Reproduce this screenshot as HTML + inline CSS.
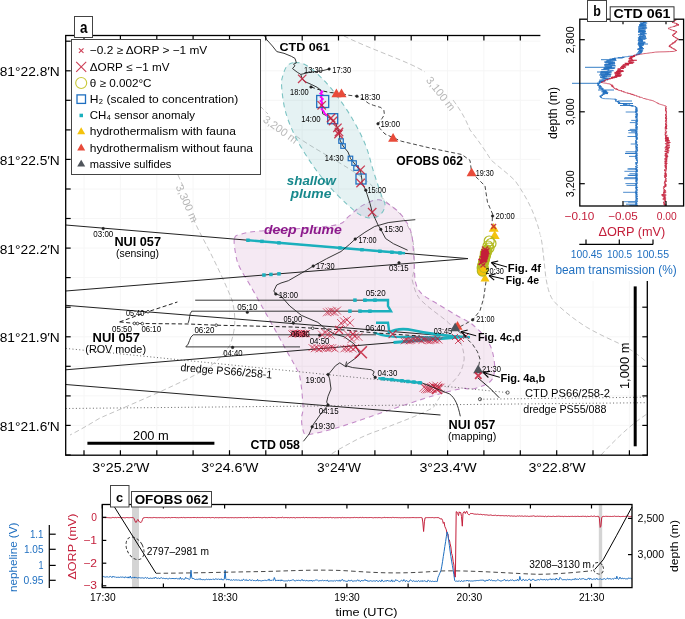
<!DOCTYPE html>
<html><head><meta charset="utf-8"><style>
html,body{margin:0;padding:0;background:#fff;}
svg{display:block;font-family:"Liberation Sans", sans-serif;will-change:transform;}
</style></head><body>
<svg width="685" height="619" viewBox="0 0 685 619">
<rect width="685" height="619" fill="#fff"/>
<line x1="84.0" y1="35.5" x2="84.0" y2="455.2" stroke="#f6f6f6" stroke-width="1" />
<line x1="120.4" y1="35.5" x2="120.4" y2="455.2" stroke="#f6f6f6" stroke-width="1" />
<line x1="156.8" y1="35.5" x2="156.8" y2="455.2" stroke="#f6f6f6" stroke-width="1" />
<line x1="193.1" y1="35.5" x2="193.1" y2="455.2" stroke="#f6f6f6" stroke-width="1" />
<line x1="229.5" y1="35.5" x2="229.5" y2="455.2" stroke="#f6f6f6" stroke-width="1" />
<line x1="265.8" y1="35.5" x2="265.8" y2="455.2" stroke="#f6f6f6" stroke-width="1" />
<line x1="302.2" y1="35.5" x2="302.2" y2="455.2" stroke="#f6f6f6" stroke-width="1" />
<line x1="338.5" y1="35.5" x2="338.5" y2="455.2" stroke="#f6f6f6" stroke-width="1" />
<line x1="374.9" y1="35.5" x2="374.9" y2="455.2" stroke="#f6f6f6" stroke-width="1" />
<line x1="411.2" y1="35.5" x2="411.2" y2="455.2" stroke="#f6f6f6" stroke-width="1" />
<line x1="447.6" y1="35.5" x2="447.6" y2="455.2" stroke="#f6f6f6" stroke-width="1" />
<line x1="483.9" y1="35.5" x2="483.9" y2="455.2" stroke="#f6f6f6" stroke-width="1" />
<line x1="520.3" y1="35.5" x2="520.3" y2="455.2" stroke="#f6f6f6" stroke-width="1" />
<line x1="556.7" y1="35.5" x2="556.7" y2="455.2" stroke="#f6f6f6" stroke-width="1" />
<line x1="593.0" y1="35.5" x2="593.0" y2="455.2" stroke="#f6f6f6" stroke-width="1" />
<line x1="629.4" y1="35.5" x2="629.4" y2="455.2" stroke="#f6f6f6" stroke-width="1" />
<line x1="65.7" y1="41.2" x2="647.3" y2="41.2" stroke="#f6f6f6" stroke-width="1" />
<line x1="65.7" y1="70.8" x2="647.3" y2="70.8" stroke="#f6f6f6" stroke-width="1" />
<line x1="65.7" y1="100.3" x2="647.3" y2="100.3" stroke="#f6f6f6" stroke-width="1" />
<line x1="65.7" y1="129.9" x2="647.3" y2="129.9" stroke="#f6f6f6" stroke-width="1" />
<line x1="65.7" y1="159.4" x2="647.3" y2="159.4" stroke="#f6f6f6" stroke-width="1" />
<line x1="65.7" y1="189.0" x2="647.3" y2="189.0" stroke="#f6f6f6" stroke-width="1" />
<line x1="65.7" y1="218.5" x2="647.3" y2="218.5" stroke="#f6f6f6" stroke-width="1" />
<line x1="65.7" y1="248.1" x2="647.3" y2="248.1" stroke="#f6f6f6" stroke-width="1" />
<line x1="65.7" y1="277.6" x2="647.3" y2="277.6" stroke="#f6f6f6" stroke-width="1" />
<line x1="65.7" y1="307.2" x2="647.3" y2="307.2" stroke="#f6f6f6" stroke-width="1" />
<line x1="65.7" y1="336.8" x2="647.3" y2="336.8" stroke="#f6f6f6" stroke-width="1" />
<line x1="65.7" y1="366.3" x2="647.3" y2="366.3" stroke="#f6f6f6" stroke-width="1" />
<line x1="65.7" y1="395.9" x2="647.3" y2="395.9" stroke="#f6f6f6" stroke-width="1" />
<line x1="65.7" y1="425.4" x2="647.3" y2="425.4" stroke="#f6f6f6" stroke-width="1" />
<line x1="65.7" y1="455.0" x2="647.3" y2="455.0" stroke="#f6f6f6" stroke-width="1" />
<path d="M344,36 C372,50 410,62 425,72 M453,100 C462,112 466,120 470,130 C478,140 485,150 491,160 C500,168 510,175 515.6,181.4 C525,195 530,205 533.4,213.4 C538,225 541,235 542.3,245.4 C544,260 545,270 545.8,277.4 C548,290 550,297 554.7,302.3 C565,312 575,320 586.8,327.3 C600,335 612,340 622.3,345 C632,350 640,356 647.3,362.8" stroke="#c4c4c4" stroke-width="1" fill="none" stroke-dasharray="5,3"/>
<path d="M260,106 L268,114 M296,136 C310,146 325,154 336.5,161 C348,168 358,174 367.5,181.7 C373,186 378,192 381.7,197.2 C388,204 396,209 401,215 C406,222 409,228 411,233 C413,240 414,246 414,251 C415,265 414,272 412,279 C414,288 416,294 419.4,298.5 C428,308 440,315 448.5,322.7 C455,330 459,336 460.6,342 C463,348 464,353 464.2,359 C463,367 461,372 458,376 C454,381 450,385 446,388 C441,395 437,401 433.5,407.4 C420,415 400,422 380,430 C368,434 360,438 356,440 C345,446 337,450 330,455" stroke="#c4c4c4" stroke-width="1" fill="none" stroke-dasharray="5,3"/>
<path d="M601,455 C615,440 630,425 647,414" stroke="#c4c4c4" stroke-width="1" fill="none" stroke-dasharray="5,3"/>
<path d="M178,175 L183,186 M193,218 C198,230 204,240 210,252 C218,268 226,285 232,300 C236,315 236,330 230,345 C222,358 210,368 195,375 C170,388 130,405 100,418 C90,424 80,430 70,435" stroke="#c4c4c4" stroke-width="1" fill="none" stroke-dasharray="5,3"/>
<text x="0" y="3.78" font-size="11" text-anchor="middle" fill="#b8b8b8" font-weight="normal" transform="translate(440.8 93.6) rotate(52)">3,100 m</text>
<text x="0" y="3.78" font-size="11" text-anchor="middle" fill="#b8b8b8" font-weight="normal" transform="translate(280.5 129.5) rotate(36)">3,200 m</text>
<text x="0" y="3.78" font-size="11" text-anchor="middle" fill="#b8b8b8" font-weight="normal" transform="translate(187.0 203.4) rotate(66)">3,300 m</text>
<path d="M234.4,238.4 C235.3,234.7 237.7,235.2 241.7,234.0 C245.7,232.8 248.8,232.0 258.5,231.1 C268.2,230.2 286.9,229.6 300.0,228.5 C313.1,227.4 329.3,226.5 337.3,224.6 C345.3,222.7 344.9,219.5 348.2,216.9 C351.5,214.3 354.1,211.4 357.0,209.2 C359.9,207.0 362.1,205.4 365.8,203.8 C369.5,202.2 374.4,199.2 379.0,199.8 C383.6,200.4 389.3,204.5 393.4,207.5 C397.5,210.5 400.7,213.6 403.7,217.9 C406.7,222.2 409.7,226.5 411.4,233.4 C413.1,240.3 413.3,251.1 414.0,259.2 C414.7,267.3 414.2,276.2 415.5,282.0 C416.8,287.8 418.6,290.5 422.0,294.0 C425.4,297.5 430.3,299.5 436.0,303.0 C441.7,306.5 449.8,311.3 456.0,315.0 C462.2,318.7 467.8,320.8 473.0,325.0 C478.2,329.2 483.7,335.2 487.0,340.0 C490.3,344.8 491.8,348.8 493.0,354.0 C494.2,359.2 495.1,366.3 494.5,371.0 C493.9,375.7 493.3,379.0 489.7,382.0 C486.1,385.0 477.7,387.9 473.0,389.0 C468.3,390.1 468.1,387.6 461.5,388.7 C454.9,389.8 446.0,392.0 433.5,395.7 C421.0,399.4 400.3,406.4 386.7,411.0 C373.1,415.6 361.6,419.8 352.0,423.0 C342.4,426.2 336.4,428.1 329.0,430.0 C321.6,431.9 311.7,434.5 307.4,434.5 C303.1,434.5 304.0,432.7 303.0,430.0 C302.0,427.3 301.5,422.4 301.5,418.5 C301.5,414.6 303.2,413.6 303.0,406.8 C302.8,400.0 301.4,384.6 300.0,377.6 C298.6,370.6 297.0,369.9 294.5,365.0 C292.0,360.1 288.5,354.3 285.0,348.0 C281.5,341.7 277.3,333.9 273.5,327.0 C269.7,320.1 265.9,313.5 262.0,306.5 C258.1,299.5 253.7,291.4 250.0,285.0 C246.3,278.6 242.3,272.8 240.0,268.0 C237.7,263.2 236.9,260.9 236.0,256.0 C235.1,251.1 233.5,242.1 234.4,238.4Z" stroke="#c38ac8" stroke-width="1.1" fill="#bc6caf" fill-opacity="0.15" stroke-dasharray="5,4"/>
<path d="M294.6,62.6 C297.8,62.5 301.7,62.6 306.2,65.2 C310.7,67.8 316.5,72.9 321.7,78.1 C326.9,83.3 332.0,89.3 337.2,96.2 C342.4,103.1 348.0,111.2 352.7,119.4 C357.4,127.6 362.2,136.7 365.6,145.3 C369.1,153.9 370.8,162.9 373.4,171.1 C376.0,179.3 379.2,188.8 381.1,194.4 C383.0,200.0 385.0,201.4 385.0,204.7 C385.0,208.0 383.2,211.8 381.0,214.0 C378.8,216.2 375.4,217.8 372.0,218.0 C368.6,218.2 364.6,217.3 360.5,215.1 C356.4,212.9 352.7,209.4 347.5,204.7 C342.3,199.9 335.4,193.5 329.4,186.6 C323.4,179.7 317.0,171.6 311.4,163.4 C305.8,155.2 300.1,146.1 295.8,137.5 C291.5,128.9 287.9,120.3 285.5,111.7 C283.1,103.1 282.0,91.8 281.6,85.8 C281.2,79.8 282.0,78.8 282.9,75.5 C283.8,72.2 285.1,68.2 287.0,66.0 C288.9,63.9 291.4,62.7 294.6,62.6Z" stroke="#7cc3c3" stroke-width="1.1" fill="#66b3b8" fill-opacity="0.17" stroke-dasharray="5,4"/>
<polyline points="65.7,225.0 468.0,258.6 65.7,291.0" stroke="#222" stroke-width="1" fill="none" />
<polyline points="65.7,305.3 460.0,337.0 65.7,369.8" stroke="#222" stroke-width="1" fill="none" />
<line x1="65.7" y1="384.5" x2="440.5" y2="415.0" stroke="#222" stroke-width="1" />
<line x1="248" y1="240.2" x2="405" y2="253.3" stroke="#1ab0bd" stroke-width="2.4"/>
<rect x="246.2" y="238.5" width="3.5" height="3.5" fill="#1ab0bd" stroke="none" stroke-width="1" />
<rect x="260.2" y="239.6" width="3.5" height="3.5" fill="#1ab0bd" stroke="none" stroke-width="1" />
<rect x="277.2" y="241.1" width="3.5" height="3.5" fill="#1ab0bd" stroke="none" stroke-width="1" />
<rect x="338.2" y="246.2" width="3.5" height="3.5" fill="#1ab0bd" stroke="none" stroke-width="1" />
<rect x="360.2" y="248.0" width="3.5" height="3.5" fill="#1ab0bd" stroke="none" stroke-width="1" />
<rect x="378.2" y="249.5" width="3.5" height="3.5" fill="#1ab0bd" stroke="none" stroke-width="1" />
<rect x="390.2" y="250.5" width="3.5" height="3.5" fill="#1ab0bd" stroke="none" stroke-width="1" />
<rect x="398.2" y="251.2" width="3.5" height="3.5" fill="#1ab0bd" stroke="none" stroke-width="1" />
<rect x="262.2" y="273.3" width="3.5" height="3.5" fill="#1ab0bd" stroke="none" stroke-width="1" />
<rect x="269.2" y="272.7" width="3.5" height="3.5" fill="#1ab0bd" stroke="none" stroke-width="1" />
<rect x="277.2" y="272.1" width="3.5" height="3.5" fill="#1ab0bd" stroke="none" stroke-width="1" />
<path d="M195.2,300.2 L363,300.2 M191.7,311.2 L361,311.2 M191.7,311.2 C189,314 190,319 188.2,322.9 M193.2,334.8 L376,334.8 M193.2,334.8 C189,337 190,344 185.8,346.9 L300,346.9" stroke="#222" stroke-width="0.9" fill="none" />
<circle cx="247.3" cy="312.3" r="1.3" stroke="#222" stroke-width="0.5" fill="#222"/>
<circle cx="293.3" cy="323.1" r="1.3" stroke="#222" stroke-width="0.5" fill="#222"/>
<circle cx="319.7" cy="335.2" r="1.3" stroke="#222" stroke-width="0.5" fill="#222"/>
<circle cx="232.6" cy="347.4" r="1.3" stroke="#222" stroke-width="0.5" fill="#222"/>
<polyline points="363.0,300.2 388.0,300.0 388.0,306.0 391.0,311.2 361.0,311.2" stroke="#1ab0bd" stroke-width="2.4" fill="none" />
<polyline points="376.0,322.7 388.0,322.7 389.0,330.0 389.0,333.6" stroke="#1ab0bd" stroke-width="2.4" fill="none" />
<path d="M388,333 C395,329 405,328.5 413,330.3 C425,333 445,336 470,337.3" stroke="#1ab0bd" stroke-width="2.6" fill="none" />
<path d="M373.8,332.5 C380,335 390,337 402,337 L440,337.5" stroke="#1ab0bd" stroke-width="2.4" fill="none" />
<path d="M393.5,342.5 L460,337.0" stroke="#1ab0bd" stroke-width="3" fill="none" />
<rect x="353.2" y="298.4" width="3.5" height="3.5" fill="#1ab0bd" stroke="none" stroke-width="1" />
<rect x="348.2" y="309.4" width="3.5" height="3.5" fill="#1ab0bd" stroke="none" stroke-width="1" />
<rect x="363.2" y="298.4" width="3.5" height="3.5" fill="#1ab0bd" stroke="none" stroke-width="1" />
<rect x="358.2" y="309.4" width="3.5" height="3.5" fill="#1ab0bd" stroke="none" stroke-width="1" />
<rect x="373.2" y="298.4" width="3.5" height="3.5" fill="#1ab0bd" stroke="none" stroke-width="1" />
<rect x="368.2" y="309.4" width="3.5" height="3.5" fill="#1ab0bd" stroke="none" stroke-width="1" />
<path d="M119.7,321.9 L148,311.7 L177.4,302 M119.7,321.9 L134.4,323.4 L188.7,324 L216.2,325.2 L293,327 L312.7,328.2 L345,330 L376,333 L420,336" stroke="#222" stroke-width="1" fill="none" stroke-dasharray="4,2.5"/>
<circle cx="148.0" cy="311.7" r="1.3" stroke="#222" stroke-width="0.8" fill="#fff"/>
<circle cx="134.4" cy="323.4" r="1.3" stroke="#222" stroke-width="0.8" fill="#fff"/>
<circle cx="137.5" cy="323.5" r="1.3" stroke="#222" stroke-width="0.8" fill="#fff"/>
<circle cx="142.3" cy="323.6" r="1.3" stroke="#222" stroke-width="0.8" fill="#fff"/>
<circle cx="216.2" cy="325.2" r="1.3" stroke="#222" stroke-width="0.8" fill="#fff"/>
<circle cx="312.7" cy="328.2" r="1.3" stroke="#222" stroke-width="0.8" fill="#fff"/>
<path d="M65.7,348.4 L507.6,392.6" stroke="#555" stroke-width="0.9" fill="none" stroke-dasharray="1,2.4"/>
<path d="M65.7,408.5 L647.3,402.7" stroke="#555" stroke-width="0.9" fill="none" stroke-dasharray="1,2.4"/>
<path d="M480,399.2 L647.3,397.2" stroke="#555" stroke-width="0.9" fill="none" stroke-dasharray="1,2.4"/>
<circle cx="507.6" cy="392.6" r="1.6" stroke="#333" stroke-width="0.8" fill="none"/>
<circle cx="480.0" cy="399.2" r="1.6" stroke="#333" stroke-width="0.8" fill="none"/>
<polyline points="264.4,35.5 266.6,39.5 272.4,46.0 276.8,51.6 284.0,53.3 291.3,56.3 295.0,58.4 296.4,62.8 293.5,64.3 295.0,65.7 292.5,68.6 297.2,72.2 300.8,74.4 302.2,78.8 305.1,81.7 311.7,84.6 317.5,87.5 321.1,90.4 322.6,113.7 327.0,116.0 331.0,119.0 336.0,124.0 337.4,127.8 339.0,132.0 340.0,140.0 343.0,146.0 348.0,152.0 350.5,158.5 354.0,163.0 358.0,168.0 360.6,171.0 361.0,174.0 362.0,180.0 362.0,183.0 365.8,190.2 367.2,194.6 370.0,203.4 372.2,212.2 375.3,219.0 378.0,225.0 380.8,229.4 385.6,238.5 393.4,243.7 407.6,250.2" stroke="#222" stroke-width="0.9" fill="none" />
<path d="M300.8,74.4 L310.2,72.2 L321.9,70.8 L329.1,69" stroke="#222" stroke-width="0.9" fill="none" />
<circle cx="329.1" cy="69.0" r="1.3" stroke="#222" stroke-width="0.5" fill="#222"/>
<path d="M311,87 L323.3,91.1 L330.6,92.6 L336,93" stroke="#222" stroke-width="1" fill="none" stroke-dasharray="4,2.5"/>
<circle cx="311.0" cy="87.0" r="1.3" stroke="#222" stroke-width="0.5" fill="#222"/>
<polyline points="415.3,219.7 403.7,220.7 388.2,222.6 374.6,226.5 364.9,232.3 355.2,239.1 349.7,244.2 341.0,251.5 326.4,258.8 313.2,266.1 306.0,270.5 288.4,280.7 281.0,283.0 276.7,285.0 273.8,291.0 275.8,294.0 280.5,295.5 289.8,306.0 301.5,315.4 317.9,322.4 324.9,328.2 334.2,334.0 344.0,336.7 354.3,344.0 360.0,354.0 357.2,357.0 347.0,364.3 346.2,367.0 339.8,362.8 335.4,365.8 329.6,373.0 328.1,374.5 329.6,378.8 331.0,389.0 328.0,396.3 326.7,402.0 328.0,405.0 320.9,413.7 313.6,424.0 312.2,426.8 309.2,434.0 303.4,441.3" stroke="#222" stroke-width="0.9" fill="none" />
<circle cx="355.2" cy="239.1" r="1.3" stroke="#222" stroke-width="0.5" fill="#222"/>
<circle cx="313.2" cy="266.1" r="1.3" stroke="#222" stroke-width="0.5" fill="#222"/>
<circle cx="275.8" cy="294.0" r="1.3" stroke="#222" stroke-width="0.5" fill="#222"/>
<circle cx="328.1" cy="374.5" r="1.3" stroke="#222" stroke-width="0.5" fill="#222"/>
<circle cx="328.0" cy="405.0" r="1.3" stroke="#222" stroke-width="0.5" fill="#222"/>
<circle cx="312.2" cy="426.8" r="1.3" stroke="#222" stroke-width="0.5" fill="#222"/>
<circle cx="380.8" cy="229.4" r="1.3" stroke="#222" stroke-width="0.5" fill="#222"/>
<circle cx="365.8" cy="190.2" r="1.3" stroke="#222" stroke-width="0.5" fill="#222"/>
<polyline points="342.0,93.7 348.2,95.2 356.9,96.2 362.5,98.8 368.6,103.4 373.7,105.4 380.9,107.5 383.9,110.5 384.4,114.6 381.9,118.7 378.0,123.8 379.8,128.4 385.0,134.0 393.1,137.6 401.3,141.2 430.0,148.0 461.8,154.5 470.0,160.4 471.6,172.0 475.8,176.7 485.0,186.0 487.5,202.4 492.6,214.0 492.0,225.0" stroke="#333" stroke-width="0.9" fill="none" stroke-dasharray="4,2.5"/>
<circle cx="356.9" cy="96.2" r="1.3" stroke="#222" stroke-width="0.5" fill="#222"/>
<circle cx="378.0" cy="123.8" r="1.3" stroke="#222" stroke-width="0.5" fill="#222"/>
<circle cx="492.6" cy="216.0" r="1.3" stroke="#222" stroke-width="0.5" fill="#222"/>
<polyline points="486.0,281.5 483.6,298.5 480.0,310.6 472.7,319.8 465.4,323.9 459.4,327.0 455.2,328.8 463.0,334.8 472.7,344.5 477.5,351.8 480.0,359.0 478.0,370.0" stroke="#333" stroke-width="0.9" fill="none" stroke-dasharray="4,2.5"/>
<circle cx="472.7" cy="319.8" r="1.3" stroke="#222" stroke-width="0.5" fill="#222"/>
<path d="M478,378 L489.7,388 L499.3,397.8" stroke="#222" stroke-width="1" fill="none" />
<polyline points="321.1,90.4 322.3,92.0 320.4,93.5 322.5,95.0 320.6,97.0 322.8,99.0 320.5,101.0 322.6,103.0 321.0,105.0 323.2,107.0 321.5,109.0 323.5,111.0 324.5,113.0 327.0,116.0" stroke="#ff00ff" stroke-width="1.8" fill="none" />
<rect x="316.7" y="95.5" width="12.0" height="12.0" fill="none" stroke="#1f6fc0" stroke-width="1.3" />
<rect x="327.7" y="113.7" width="10.0" height="10.0" fill="none" stroke="#1f6fc0" stroke-width="1.3" />
<rect x="356.0" y="174.0" width="10.0" height="10.0" fill="none" stroke="#1f6fc0" stroke-width="1.3" />
<rect x="338.8" y="138.8" width="4.5" height="4.5" fill="none" stroke="#1f6fc0" stroke-width="1.2" />
<rect x="340.8" y="143.8" width="4.5" height="4.5" fill="none" stroke="#1f6fc0" stroke-width="1.2" />
<rect x="348.2" y="156.2" width="4.5" height="4.5" fill="none" stroke="#1f6fc0" stroke-width="1.2" />
<rect x="351.8" y="160.8" width="4.5" height="4.5" fill="none" stroke="#1f6fc0" stroke-width="1.2" />
<rect x="353.8" y="165.8" width="4.5" height="4.5" fill="none" stroke="#1f6fc0" stroke-width="1.2" />
<path d="M298.0,74.6L306.4,83.0M298.0,83.0L306.4,74.6" stroke="#c41e3a" stroke-width="1.3" stroke-opacity="0.85" fill="none"/>
<path d="M317.5,101.1L325.9,109.5M317.5,109.5L325.9,101.1" stroke="#c41e3a" stroke-width="1.3" stroke-opacity="0.85" fill="none"/>
<path d="M326.8,113.8L335.2,122.2M326.8,122.2L335.2,113.8" stroke="#c41e3a" stroke-width="1.3" stroke-opacity="0.85" fill="none"/>
<path d="M328.8,116.8L337.2,125.2M328.8,125.2L337.2,116.8" stroke="#c41e3a" stroke-width="1.3" stroke-opacity="0.85" fill="none"/>
<path d="M333.2,123.6L341.6,132.0M333.2,132.0L341.6,123.6" stroke="#c41e3a" stroke-width="1.3" stroke-opacity="0.85" fill="none"/>
<path d="M334.8,127.8L343.2,136.2M334.8,136.2L343.2,127.8" stroke="#c41e3a" stroke-width="1.3" stroke-opacity="0.85" fill="none"/>
<path d="M334.3,129.8L342.7,138.2M334.3,138.2L342.7,129.8" stroke="#c41e3a" stroke-width="1.3" stroke-opacity="0.85" fill="none"/>
<path d="M356.4,165.6L364.8,174.0M356.4,174.0L364.8,165.6" stroke="#c41e3a" stroke-width="1.3" stroke-opacity="0.85" fill="none"/>
<path d="M356.4,178.8L364.8,187.2M356.4,187.2L364.8,178.8" stroke="#c41e3a" stroke-width="1.3" stroke-opacity="0.85" fill="none"/>
<path d="M368.0,208.0L376.4,216.4M368.0,216.4L376.4,208.0" stroke="#c41e3a" stroke-width="1.3" stroke-opacity="0.85" fill="none"/>
<polygon points="336.4,88.6 341.4,97.3 331.4,97.3" fill="#e84b3a"/>
<polygon points="341.5,88.6 346.5,97.3 336.5,97.3" fill="#e84b3a"/>
<polygon points="393.1,133.0 398.1,141.7 388.1,141.7" fill="#e84b3a"/>
<polygon points="471.6,167.6 476.6,176.3 466.6,176.3" fill="#e84b3a"/>
<polygon points="493.7,223.0 498.7,231.7 488.7,231.7" fill="#f4c20d"/>
<polygon points="494.7,230.4 499.7,239.1 489.7,239.1" fill="#f4c20d"/>
<polygon points="485.0,273.6 489.5,281.5 480.5,281.5" fill="#f4c20d"/>
<path d="M491.1,224.0L496.1,229.0M491.1,229.0L496.1,224.0" stroke="#c41e3a" stroke-width="1.3" stroke-opacity="0.85" fill="none"/>
<circle cx="489.2" cy="241.0" r="5.0" stroke="#b2bb22" stroke-width="1.2" fill="none"/>
<circle cx="491.0" cy="243.5" r="5.0" stroke="#b2bb22" stroke-width="1.2" fill="none"/>
<circle cx="488.0" cy="246.0" r="5.0" stroke="#b2bb22" stroke-width="1.2" fill="none"/>
<circle cx="489.0" cy="248.0" r="5.0" stroke="#b2bb22" stroke-width="1.2" fill="none"/>
<circle cx="487.0" cy="250.0" r="4.8" stroke="#b2bb22" stroke-width="1.3" fill="none"/>
<circle cx="486.7" cy="251.2" r="4.8" stroke="#b2bb22" stroke-width="1.3" fill="none"/>
<circle cx="486.3" cy="252.4" r="4.8" stroke="#b2bb22" stroke-width="1.3" fill="none"/>
<circle cx="486.0" cy="253.6" r="4.8" stroke="#b2bb22" stroke-width="1.3" fill="none"/>
<circle cx="485.7" cy="254.8" r="4.8" stroke="#b2bb22" stroke-width="1.3" fill="none"/>
<circle cx="485.3" cy="256.0" r="4.8" stroke="#b2bb22" stroke-width="1.3" fill="none"/>
<circle cx="485.0" cy="257.2" r="4.8" stroke="#b2bb22" stroke-width="1.3" fill="none"/>
<circle cx="484.7" cy="258.4" r="4.8" stroke="#b2bb22" stroke-width="1.3" fill="none"/>
<circle cx="484.3" cy="259.6" r="4.8" stroke="#b2bb22" stroke-width="1.3" fill="none"/>
<circle cx="484.0" cy="260.8" r="4.8" stroke="#b2bb22" stroke-width="1.3" fill="none"/>
<circle cx="483.7" cy="262.0" r="4.8" stroke="#b2bb22" stroke-width="1.3" fill="none"/>
<circle cx="483.3" cy="263.2" r="4.8" stroke="#b2bb22" stroke-width="1.3" fill="none"/>
<circle cx="483.0" cy="264.4" r="4.8" stroke="#b2bb22" stroke-width="1.3" fill="none"/>
<circle cx="482.7" cy="265.6" r="4.8" stroke="#b2bb22" stroke-width="1.3" fill="none"/>
<circle cx="482.3" cy="266.8" r="4.8" stroke="#b2bb22" stroke-width="1.3" fill="none"/>
<circle cx="482.0" cy="268.0" r="4.8" stroke="#b2bb22" stroke-width="1.3" fill="none"/>
<path d="M480,251 L486,247 L490,250 L489.5,258 L487,264 L482,265 L479.5,260 Z" fill="#b2bb22"/>
<path d="M482.0,246.5L488.0,252.5M482.0,252.5L488.0,246.5" stroke="#c41e3a" stroke-width="1.6" stroke-opacity="0.85" fill="none"/>
<path d="M483.4,248.3L489.4,254.3M483.4,254.3L489.4,248.3" stroke="#c41e3a" stroke-width="1.6" stroke-opacity="0.85" fill="none"/>
<path d="M481.4,249.0L487.4,255.0M481.4,255.0L487.4,249.0" stroke="#c41e3a" stroke-width="1.6" stroke-opacity="0.85" fill="none"/>
<path d="M482.0,249.6L488.0,255.6M482.0,255.6L488.0,249.6" stroke="#c41e3a" stroke-width="1.6" stroke-opacity="0.85" fill="none"/>
<path d="M482.3,250.6L488.3,256.6M482.3,256.6L488.3,250.6" stroke="#c41e3a" stroke-width="1.6" stroke-opacity="0.85" fill="none"/>
<path d="M481.1,252.5L487.1,258.5M481.1,258.5L487.1,252.5" stroke="#c41e3a" stroke-width="1.6" stroke-opacity="0.85" fill="none"/>
<path d="M480.9,253.7L486.9,259.7M480.9,259.7L486.9,253.7" stroke="#c41e3a" stroke-width="1.6" stroke-opacity="0.85" fill="none"/>
<path d="M481.3,255.5L487.3,261.5M481.3,261.5L487.3,255.5" stroke="#c41e3a" stroke-width="1.6" stroke-opacity="0.85" fill="none"/>
<path d="M479.9,256.0L485.9,262.0M479.9,262.0L485.9,256.0" stroke="#c41e3a" stroke-width="1.6" stroke-opacity="0.85" fill="none"/>
<path d="M480.6,256.4L486.6,262.4M480.6,262.4L486.6,256.4" stroke="#c41e3a" stroke-width="1.6" stroke-opacity="0.85" fill="none"/>
<path d="M478.6,258.9L484.6,264.9M478.6,264.9L484.6,258.9" stroke="#c41e3a" stroke-width="1.6" stroke-opacity="0.85" fill="none"/>
<path d="M479.0,258.6L485.0,264.6M479.0,264.6L485.0,258.6" stroke="#c41e3a" stroke-width="1.6" stroke-opacity="0.85" fill="none"/>
<path d="M481,251 L487,249 L489,252 L488,259 L485,262 L481,262 Z" fill="#c41e3a" fill-opacity="0.9"/>
<circle cx="482.5" cy="271.0" r="5.2" stroke="#b2bb22" stroke-width="1.2" fill="#f4c20d"/>
<circle cx="484.0" cy="268.0" r="4.5" stroke="#b2bb22" stroke-width="1.1" fill="none"/>
<path d="M480.5,262.5L485.5,267.5M480.5,267.5L485.5,262.5" stroke="#c41e3a" stroke-width="1.2" stroke-opacity="0.85" fill="none"/>
<path d="M323.0,308.3L331.0,316.3M323.0,316.3L331.0,308.3" stroke="#c41e3a" stroke-width="0.8" stroke-opacity="0.85" fill="none"/>
<path d="M325.5,307.7L333.5,315.7M325.5,315.7L333.5,307.7" stroke="#c41e3a" stroke-width="0.8" stroke-opacity="0.85" fill="none"/>
<path d="M328.0,307.4L336.0,315.4M328.0,315.4L336.0,307.4" stroke="#c41e3a" stroke-width="0.8" stroke-opacity="0.85" fill="none"/>
<path d="M330.5,308.0L338.5,316.0M330.5,316.0L338.5,308.0" stroke="#c41e3a" stroke-width="0.8" stroke-opacity="0.85" fill="none"/>
<path d="M333.0,306.6L341.0,314.6M333.0,314.6L341.0,306.6" stroke="#c41e3a" stroke-width="0.8" stroke-opacity="0.85" fill="none"/>
<path d="M337.0,319.0L345.0,327.0M337.0,327.0L345.0,319.0" stroke="#c41e3a" stroke-width="0.8" stroke-opacity="0.85" fill="none"/>
<path d="M340.0,317.4L348.0,325.4M340.0,325.4L348.0,317.4" stroke="#c41e3a" stroke-width="0.8" stroke-opacity="0.85" fill="none"/>
<path d="M343.0,316.0L351.0,324.0M343.0,324.0L351.0,316.0" stroke="#c41e3a" stroke-width="0.8" stroke-opacity="0.85" fill="none"/>
<path d="M346.0,318.8L354.0,326.8M346.0,326.8L354.0,318.8" stroke="#c41e3a" stroke-width="0.8" stroke-opacity="0.85" fill="none"/>
<path d="M288.5,330.4L295.5,337.4M288.5,337.4L295.5,330.4" stroke="#c41e3a" stroke-width="1.0" stroke-opacity="0.85" fill="none"/>
<path d="M290.1,329.7L297.1,336.7M290.1,336.7L297.1,329.7" stroke="#c41e3a" stroke-width="1.0" stroke-opacity="0.85" fill="none"/>
<path d="M291.7,330.1L298.7,337.1M291.7,337.1L298.7,330.1" stroke="#c41e3a" stroke-width="1.0" stroke-opacity="0.85" fill="none"/>
<path d="M293.3,329.8L300.3,336.8M293.3,336.8L300.3,329.8" stroke="#c41e3a" stroke-width="1.0" stroke-opacity="0.85" fill="none"/>
<path d="M294.9,330.2L301.9,337.2M294.9,337.2L301.9,330.2" stroke="#c41e3a" stroke-width="1.0" stroke-opacity="0.85" fill="none"/>
<path d="M296.5,330.2L303.5,337.2M296.5,337.2L303.5,330.2" stroke="#c41e3a" stroke-width="1.0" stroke-opacity="0.85" fill="none"/>
<path d="M298.1,329.7L305.1,336.7M298.1,336.7L305.1,329.7" stroke="#c41e3a" stroke-width="1.0" stroke-opacity="0.85" fill="none"/>
<path d="M299.7,330.3L306.7,337.3M299.7,337.3L306.7,330.3" stroke="#c41e3a" stroke-width="1.0" stroke-opacity="0.85" fill="none"/>
<path d="M301.3,330.2L308.3,337.2M301.3,337.2L308.3,330.2" stroke="#c41e3a" stroke-width="1.0" stroke-opacity="0.85" fill="none"/>
<path d="M302.9,330.2L309.9,337.2M302.9,337.2L309.9,330.2" stroke="#c41e3a" stroke-width="1.0" stroke-opacity="0.85" fill="none"/>
<path d="M318.0,330.6L326.0,338.6M318.0,338.6L326.0,330.6" stroke="#c41e3a" stroke-width="0.8" stroke-opacity="0.85" fill="none"/>
<path d="M321.0,328.6L329.0,336.6M321.0,336.6L329.0,328.6" stroke="#c41e3a" stroke-width="0.8" stroke-opacity="0.85" fill="none"/>
<path d="M324.0,330.3L332.0,338.3M324.0,338.3L332.0,330.3" stroke="#c41e3a" stroke-width="0.8" stroke-opacity="0.85" fill="none"/>
<path d="M327.0,330.9L335.0,338.9M327.0,338.9L335.0,330.9" stroke="#c41e3a" stroke-width="0.8" stroke-opacity="0.85" fill="none"/>
<path d="M344.0,330.6L352.0,338.6M344.0,338.6L352.0,330.6" stroke="#c41e3a" stroke-width="0.8" stroke-opacity="0.85" fill="none"/>
<path d="M347.5,335.1L355.5,343.1M347.5,343.1L355.5,335.1" stroke="#c41e3a" stroke-width="0.8" stroke-opacity="0.85" fill="none"/>
<path d="M351.0,332.4L359.0,340.4M351.0,340.4L359.0,332.4" stroke="#c41e3a" stroke-width="0.8" stroke-opacity="0.85" fill="none"/>
<path d="M354.5,332.9L362.5,340.9M354.5,340.9L362.5,332.9" stroke="#c41e3a" stroke-width="0.8" stroke-opacity="0.85" fill="none"/>
<path d="M308.5,344.1L315.5,351.1M308.5,351.1L315.5,344.1" stroke="#c41e3a" stroke-width="0.8" stroke-opacity="0.85" fill="none"/>
<path d="M310.8,345.2L317.8,352.2M310.8,352.2L317.8,345.2" stroke="#c41e3a" stroke-width="0.8" stroke-opacity="0.85" fill="none"/>
<path d="M313.1,344.4L320.1,351.4M313.1,351.4L320.1,344.4" stroke="#c41e3a" stroke-width="0.8" stroke-opacity="0.85" fill="none"/>
<path d="M315.4,345.5L322.4,352.5M315.4,352.5L322.4,345.5" stroke="#c41e3a" stroke-width="0.8" stroke-opacity="0.85" fill="none"/>
<path d="M317.7,344.4L324.7,351.4M317.7,351.4L324.7,344.4" stroke="#c41e3a" stroke-width="0.8" stroke-opacity="0.85" fill="none"/>
<path d="M320.0,344.9L327.0,351.9M320.0,351.9L327.0,344.9" stroke="#c41e3a" stroke-width="0.8" stroke-opacity="0.85" fill="none"/>
<path d="M322.3,344.6L329.3,351.6M322.3,351.6L329.3,344.6" stroke="#c41e3a" stroke-width="0.8" stroke-opacity="0.85" fill="none"/>
<path d="M324.6,345.0L331.6,352.0M324.6,352.0L331.6,345.0" stroke="#c41e3a" stroke-width="0.8" stroke-opacity="0.85" fill="none"/>
<path d="M326.9,344.2L333.9,351.2M326.9,351.2L333.9,344.2" stroke="#c41e3a" stroke-width="0.8" stroke-opacity="0.85" fill="none"/>
<path d="M329.2,344.2L336.2,351.2M329.2,351.2L336.2,344.2" stroke="#c41e3a" stroke-width="0.8" stroke-opacity="0.85" fill="none"/>
<path d="M331.5,345.3L338.5,352.3M331.5,352.3L338.5,345.3" stroke="#c41e3a" stroke-width="0.8" stroke-opacity="0.85" fill="none"/>
<path d="M340.5,345.3L347.5,352.3M340.5,352.3L347.5,345.3" stroke="#c41e3a" stroke-width="0.8" stroke-opacity="0.85" fill="none"/>
<path d="M342.8,344.9L349.8,351.9M342.8,351.9L349.8,344.9" stroke="#c41e3a" stroke-width="0.8" stroke-opacity="0.85" fill="none"/>
<path d="M345.1,345.6L352.1,352.6M345.1,352.6L352.1,345.6" stroke="#c41e3a" stroke-width="0.8" stroke-opacity="0.85" fill="none"/>
<path d="M347.4,344.2L354.4,351.2M347.4,351.2L354.4,344.2" stroke="#c41e3a" stroke-width="0.8" stroke-opacity="0.85" fill="none"/>
<path d="M349.7,345.5L356.7,352.5M349.7,352.5L356.7,345.5" stroke="#c41e3a" stroke-width="0.8" stroke-opacity="0.85" fill="none"/>
<path d="M352.0,344.1L359.0,351.1M352.0,351.1L359.0,344.1" stroke="#c41e3a" stroke-width="0.8" stroke-opacity="0.85" fill="none"/>
<path d="M400.8,337.9L407.2,344.3M400.8,344.3L407.2,337.9" stroke="#c41e3a" stroke-width="0.8" stroke-opacity="0.85" fill="none"/>
<path d="M402.4,337.1L408.8,343.5M402.4,343.5L408.8,337.1" stroke="#c41e3a" stroke-width="0.8" stroke-opacity="0.85" fill="none"/>
<path d="M404.0,337.1L410.4,343.5M404.0,343.5L410.4,337.1" stroke="#c41e3a" stroke-width="0.8" stroke-opacity="0.85" fill="none"/>
<path d="M405.6,337.9L412.0,344.3M405.6,344.3L412.0,337.9" stroke="#c41e3a" stroke-width="0.8" stroke-opacity="0.85" fill="none"/>
<path d="M407.2,337.5L413.6,343.9M407.2,343.9L413.6,337.5" stroke="#c41e3a" stroke-width="0.8" stroke-opacity="0.85" fill="none"/>
<path d="M408.8,337.5L415.2,343.9M408.8,343.9L415.2,337.5" stroke="#c41e3a" stroke-width="0.8" stroke-opacity="0.85" fill="none"/>
<path d="M410.4,335.7L416.8,342.1M410.4,342.1L416.8,335.7" stroke="#c41e3a" stroke-width="0.8" stroke-opacity="0.85" fill="none"/>
<path d="M412.0,336.5L418.4,342.9M412.0,342.9L418.4,336.5" stroke="#c41e3a" stroke-width="0.8" stroke-opacity="0.85" fill="none"/>
<path d="M413.6,335.8L420.0,342.2M413.6,342.2L420.0,335.8" stroke="#c41e3a" stroke-width="0.8" stroke-opacity="0.85" fill="none"/>
<path d="M415.2,336.1L421.6,342.5M415.2,342.5L421.6,336.1" stroke="#c41e3a" stroke-width="0.8" stroke-opacity="0.85" fill="none"/>
<path d="M416.8,336.1L423.2,342.5M416.8,342.5L423.2,336.1" stroke="#c41e3a" stroke-width="0.8" stroke-opacity="0.85" fill="none"/>
<path d="M418.4,337.7L424.8,344.1M418.4,344.1L424.8,337.7" stroke="#c41e3a" stroke-width="0.8" stroke-opacity="0.85" fill="none"/>
<path d="M420.0,335.9L426.4,342.3M420.0,342.3L426.4,335.9" stroke="#c41e3a" stroke-width="0.8" stroke-opacity="0.85" fill="none"/>
<path d="M421.6,336.3L428.0,342.7M421.6,342.7L428.0,336.3" stroke="#c41e3a" stroke-width="0.8" stroke-opacity="0.85" fill="none"/>
<path d="M423.2,336.8L429.6,343.2M423.2,343.2L429.6,336.8" stroke="#c41e3a" stroke-width="0.8" stroke-opacity="0.85" fill="none"/>
<path d="M424.8,337.6L431.2,344.0M424.8,344.0L431.2,337.6" stroke="#c41e3a" stroke-width="0.8" stroke-opacity="0.85" fill="none"/>
<path d="M426.4,337.9L432.8,344.3M426.4,344.3L432.8,337.9" stroke="#c41e3a" stroke-width="0.8" stroke-opacity="0.85" fill="none"/>
<path d="M428.0,337.3L434.4,343.7M428.0,343.7L434.4,337.3" stroke="#c41e3a" stroke-width="0.8" stroke-opacity="0.85" fill="none"/>
<path d="M429.6,336.1L436.0,342.5M429.6,342.5L436.0,336.1" stroke="#c41e3a" stroke-width="0.8" stroke-opacity="0.85" fill="none"/>
<path d="M431.2,336.9L437.6,343.3M431.2,343.3L437.6,336.9" stroke="#c41e3a" stroke-width="0.8" stroke-opacity="0.85" fill="none"/>
<path d="M432.8,337.3L439.2,343.7M432.8,343.7L439.2,337.3" stroke="#c41e3a" stroke-width="0.8" stroke-opacity="0.85" fill="none"/>
<path d="M434.4,335.7L440.8,342.1M434.4,342.1L440.8,335.7" stroke="#c41e3a" stroke-width="0.8" stroke-opacity="0.85" fill="none"/>
<path d="M436.0,337.2L442.4,343.6M436.0,343.6L442.4,337.2" stroke="#c41e3a" stroke-width="0.8" stroke-opacity="0.85" fill="none"/>
<path d="M419.5,382.8L428.5,391.8M419.5,391.8L428.5,382.8" stroke="#c41e3a" stroke-width="0.8" stroke-opacity="0.85" fill="none"/>
<path d="M421.1,383.9L430.1,392.9M421.1,392.9L430.1,383.9" stroke="#c41e3a" stroke-width="0.8" stroke-opacity="0.85" fill="none"/>
<path d="M422.7,384.3L431.7,393.3M422.7,393.3L431.7,384.3" stroke="#c41e3a" stroke-width="0.8" stroke-opacity="0.85" fill="none"/>
<path d="M424.3,384.3L433.3,393.3M424.3,393.3L433.3,384.3" stroke="#c41e3a" stroke-width="0.8" stroke-opacity="0.85" fill="none"/>
<path d="M425.9,383.6L434.9,392.6M425.9,392.6L434.9,383.6" stroke="#c41e3a" stroke-width="0.8" stroke-opacity="0.85" fill="none"/>
<path d="M427.5,383.8L436.5,392.8M427.5,392.8L436.5,383.8" stroke="#c41e3a" stroke-width="0.8" stroke-opacity="0.85" fill="none"/>
<path d="M429.1,382.0L438.1,391.0M429.1,391.0L438.1,382.0" stroke="#c41e3a" stroke-width="0.8" stroke-opacity="0.85" fill="none"/>
<path d="M430.7,383.5L439.7,392.5M430.7,392.5L439.7,383.5" stroke="#c41e3a" stroke-width="0.8" stroke-opacity="0.85" fill="none"/>
<path d="M432.3,381.6L441.3,390.6M432.3,390.6L441.3,381.6" stroke="#c41e3a" stroke-width="0.8" stroke-opacity="0.85" fill="none"/>
<path d="M433.9,383.4L442.9,392.4M433.9,392.4L442.9,383.4" stroke="#c41e3a" stroke-width="0.8" stroke-opacity="0.85" fill="none"/>
<path d="M435.5,383.7L444.5,392.7M435.5,392.7L444.5,383.7" stroke="#c41e3a" stroke-width="0.8" stroke-opacity="0.85" fill="none"/>
<path d="M354.9,346.3L366.9,358.3M354.9,358.3L366.9,346.3" stroke="#c41e3a" stroke-width="1.6" stroke-opacity="0.85" fill="none"/>
<path d="M432.0,384.0L442.0,394.0M432.0,394.0L442.0,384.0" stroke="#c41e3a" stroke-width="1.6" stroke-opacity="0.85" fill="none"/>
<path d="M335.0,326.0L343.0,334.0M335.0,334.0L343.0,326.0" stroke="#c41e3a" stroke-width="1.2" stroke-opacity="0.85" fill="none"/>
<path d="M388.6,330.2L396.6,338.2M388.6,338.2L396.6,330.2" stroke="#c41e3a" stroke-width="1.1" stroke-opacity="0.85" fill="none"/>
<path d="M349.4,330.7L356.4,337.7M349.4,337.7L356.4,330.7" stroke="#c41e3a" stroke-width="1.1" stroke-opacity="0.85" fill="none"/>
<path d="M452.0,334.0L458.0,340.0M452.0,340.0L458.0,334.0" stroke="#c41e3a" stroke-width="0.9" stroke-opacity="0.85" fill="none"/>
<path d="M458.0,336.0L464.0,342.0M458.0,342.0L464.0,336.0" stroke="#c41e3a" stroke-width="0.9" stroke-opacity="0.85" fill="none"/>
<path d="M463.0,333.0L469.0,339.0M463.0,339.0L469.0,333.0" stroke="#c41e3a" stroke-width="0.9" stroke-opacity="0.85" fill="none"/>
<path d="M455.0,338.0L461.0,344.0M455.0,344.0L461.0,338.0" stroke="#c41e3a" stroke-width="0.9" stroke-opacity="0.85" fill="none"/>
<path d="M346.6,361.5 L345.6,365.6 L352.7,367.6 L371.1,369.7 L374.2,371.7 L372.8,374.8 L375.2,377.4" stroke="#222" stroke-width="0.9" fill="none" />
<circle cx="375.2" cy="377.4" r="1.3" stroke="#222" stroke-width="0.5" fill="#222"/>
<line x1="378.3" y1="378.2" x2="422.2" y2="383" stroke="#1ab0bd" stroke-width="2.4"/>
<rect x="381.2" y="377.0" width="3.5" height="3.5" fill="#1ab0bd" stroke="none" stroke-width="1" />
<rect x="390.2" y="377.9" width="3.5" height="3.5" fill="#1ab0bd" stroke="none" stroke-width="1" />
<rect x="400.2" y="379.0" width="3.5" height="3.5" fill="#1ab0bd" stroke="none" stroke-width="1" />
<rect x="406.2" y="379.7" width="3.5" height="3.5" fill="#1ab0bd" stroke="none" stroke-width="1" />
<rect x="412.2" y="380.3" width="3.5" height="3.5" fill="#1ab0bd" stroke="none" stroke-width="1" />
<rect x="418.2" y="381.0" width="3.5" height="3.5" fill="#1ab0bd" stroke="none" stroke-width="1" />
<line x1="422.2" y1="383.0" x2="449.7" y2="394.0" stroke="#222" stroke-width="0.9" />
<polygon points="457.5,321.1 462.5,329.8 452.5,329.8" fill="#e84b3a"/>
<polygon points="455.2,322.6 460.2,331.3 450.2,331.3" fill="#50555c"/>
<polygon points="478.2,364.6 483.2,373.3 473.2,373.3" fill="#50555c"/>
<path d="M475.1,372.5L481.5,378.9M475.1,378.9L481.5,372.5" stroke="#c41e3a" stroke-width="1.8" stroke-opacity="0.85" fill="none"/>
<line x1="507.0" y1="267.0" x2="491.4" y2="262.6" stroke="#000" stroke-width="1" />
<line x1="491.4" y1="262.6" x2="496.4" y2="267.5" stroke="#000" stroke-width="1.1" />
<line x1="491.4" y1="262.6" x2="498.2" y2="261.0" stroke="#000" stroke-width="1.1" />
<line x1="504.0" y1="279.0" x2="489.0" y2="275.6" stroke="#000" stroke-width="1" />
<line x1="489.0" y1="275.6" x2="494.2" y2="280.2" stroke="#000" stroke-width="1.1" />
<line x1="489.0" y1="275.6" x2="495.7" y2="273.7" stroke="#000" stroke-width="1.1" />
<line x1="476.2" y1="335.8" x2="460.9" y2="331.7" stroke="#000" stroke-width="1" />
<line x1="460.9" y1="331.7" x2="466.0" y2="336.5" stroke="#000" stroke-width="1.1" />
<line x1="460.9" y1="331.7" x2="467.7" y2="330.0" stroke="#000" stroke-width="1.1" />
<line x1="499.8" y1="377.3" x2="483.4" y2="372.6" stroke="#000" stroke-width="1" />
<line x1="483.4" y1="372.6" x2="488.4" y2="377.5" stroke="#000" stroke-width="1.1" />
<line x1="483.4" y1="372.6" x2="490.2" y2="371.1" stroke="#000" stroke-width="1.1" />
<path d="M449.7,394 C455,398 458,405 460.3,416.3" stroke="#222" stroke-width="0.9" fill="none" />
<line x1="87.4" y1="443.2" x2="214.4" y2="443.2" stroke="#000" stroke-width="3" />
<line x1="635.2" y1="286.4" x2="635.2" y2="446.3" stroke="#000" stroke-width="3" />
<rect x="65.7" y="35.5" width="581.6" height="419.7" fill="none" stroke="#000" stroke-width="1.3"/>
<line x1="84.0" y1="455.2" x2="84.0" y2="450.2" stroke="#000" stroke-width="1.2" />
<line x1="84.0" y1="35.5" x2="84.0" y2="40.5" stroke="#000" stroke-width="1.2" />
<line x1="120.4" y1="455.2" x2="120.4" y2="450.2" stroke="#000" stroke-width="1.2" />
<line x1="120.4" y1="35.5" x2="120.4" y2="40.5" stroke="#000" stroke-width="1.2" />
<line x1="156.8" y1="455.2" x2="156.8" y2="450.2" stroke="#000" stroke-width="1.2" />
<line x1="156.8" y1="35.5" x2="156.8" y2="40.5" stroke="#000" stroke-width="1.2" />
<line x1="193.1" y1="455.2" x2="193.1" y2="450.2" stroke="#000" stroke-width="1.2" />
<line x1="193.1" y1="35.5" x2="193.1" y2="40.5" stroke="#000" stroke-width="1.2" />
<line x1="229.5" y1="455.2" x2="229.5" y2="450.2" stroke="#000" stroke-width="1.2" />
<line x1="229.5" y1="35.5" x2="229.5" y2="40.5" stroke="#000" stroke-width="1.2" />
<line x1="265.8" y1="455.2" x2="265.8" y2="450.2" stroke="#000" stroke-width="1.2" />
<line x1="265.8" y1="35.5" x2="265.8" y2="40.5" stroke="#000" stroke-width="1.2" />
<line x1="302.2" y1="455.2" x2="302.2" y2="450.2" stroke="#000" stroke-width="1.2" />
<line x1="302.2" y1="35.5" x2="302.2" y2="40.5" stroke="#000" stroke-width="1.2" />
<line x1="338.5" y1="455.2" x2="338.5" y2="450.2" stroke="#000" stroke-width="1.2" />
<line x1="338.5" y1="35.5" x2="338.5" y2="40.5" stroke="#000" stroke-width="1.2" />
<line x1="374.9" y1="455.2" x2="374.9" y2="450.2" stroke="#000" stroke-width="1.2" />
<line x1="374.9" y1="35.5" x2="374.9" y2="40.5" stroke="#000" stroke-width="1.2" />
<line x1="411.2" y1="455.2" x2="411.2" y2="450.2" stroke="#000" stroke-width="1.2" />
<line x1="411.2" y1="35.5" x2="411.2" y2="40.5" stroke="#000" stroke-width="1.2" />
<line x1="447.6" y1="455.2" x2="447.6" y2="450.2" stroke="#000" stroke-width="1.2" />
<line x1="447.6" y1="35.5" x2="447.6" y2="40.5" stroke="#000" stroke-width="1.2" />
<line x1="483.9" y1="455.2" x2="483.9" y2="450.2" stroke="#000" stroke-width="1.2" />
<line x1="483.9" y1="35.5" x2="483.9" y2="40.5" stroke="#000" stroke-width="1.2" />
<line x1="520.3" y1="455.2" x2="520.3" y2="450.2" stroke="#000" stroke-width="1.2" />
<line x1="520.3" y1="35.5" x2="520.3" y2="40.5" stroke="#000" stroke-width="1.2" />
<line x1="556.7" y1="455.2" x2="556.7" y2="450.2" stroke="#000" stroke-width="1.2" />
<line x1="556.7" y1="35.5" x2="556.7" y2="40.5" stroke="#000" stroke-width="1.2" />
<line x1="593.0" y1="455.2" x2="593.0" y2="450.2" stroke="#000" stroke-width="1.2" />
<line x1="593.0" y1="35.5" x2="593.0" y2="40.5" stroke="#000" stroke-width="1.2" />
<line x1="629.4" y1="455.2" x2="629.4" y2="450.2" stroke="#000" stroke-width="1.2" />
<line x1="629.4" y1="35.5" x2="629.4" y2="40.5" stroke="#000" stroke-width="1.2" />
<line x1="65.7" y1="41.2" x2="70.7" y2="41.2" stroke="#000" stroke-width="1.2" />
<line x1="647.3" y1="41.2" x2="642.3" y2="41.2" stroke="#000" stroke-width="1.2" />
<line x1="65.7" y1="70.8" x2="70.7" y2="70.8" stroke="#000" stroke-width="1.2" />
<line x1="647.3" y1="70.8" x2="642.3" y2="70.8" stroke="#000" stroke-width="1.2" />
<line x1="65.7" y1="100.3" x2="70.7" y2="100.3" stroke="#000" stroke-width="1.2" />
<line x1="647.3" y1="100.3" x2="642.3" y2="100.3" stroke="#000" stroke-width="1.2" />
<line x1="65.7" y1="129.9" x2="70.7" y2="129.9" stroke="#000" stroke-width="1.2" />
<line x1="647.3" y1="129.9" x2="642.3" y2="129.9" stroke="#000" stroke-width="1.2" />
<line x1="65.7" y1="159.4" x2="70.7" y2="159.4" stroke="#000" stroke-width="1.2" />
<line x1="647.3" y1="159.4" x2="642.3" y2="159.4" stroke="#000" stroke-width="1.2" />
<line x1="65.7" y1="189.0" x2="70.7" y2="189.0" stroke="#000" stroke-width="1.2" />
<line x1="647.3" y1="189.0" x2="642.3" y2="189.0" stroke="#000" stroke-width="1.2" />
<line x1="65.7" y1="218.5" x2="70.7" y2="218.5" stroke="#000" stroke-width="1.2" />
<line x1="647.3" y1="218.5" x2="642.3" y2="218.5" stroke="#000" stroke-width="1.2" />
<line x1="65.7" y1="248.1" x2="70.7" y2="248.1" stroke="#000" stroke-width="1.2" />
<line x1="647.3" y1="248.1" x2="642.3" y2="248.1" stroke="#000" stroke-width="1.2" />
<line x1="65.7" y1="277.6" x2="70.7" y2="277.6" stroke="#000" stroke-width="1.2" />
<line x1="647.3" y1="277.6" x2="642.3" y2="277.6" stroke="#000" stroke-width="1.2" />
<line x1="65.7" y1="307.2" x2="70.7" y2="307.2" stroke="#000" stroke-width="1.2" />
<line x1="647.3" y1="307.2" x2="642.3" y2="307.2" stroke="#000" stroke-width="1.2" />
<line x1="65.7" y1="336.8" x2="70.7" y2="336.8" stroke="#000" stroke-width="1.2" />
<line x1="647.3" y1="336.8" x2="642.3" y2="336.8" stroke="#000" stroke-width="1.2" />
<line x1="65.7" y1="366.3" x2="70.7" y2="366.3" stroke="#000" stroke-width="1.2" />
<line x1="647.3" y1="366.3" x2="642.3" y2="366.3" stroke="#000" stroke-width="1.2" />
<line x1="65.7" y1="395.9" x2="70.7" y2="395.9" stroke="#000" stroke-width="1.2" />
<line x1="647.3" y1="395.9" x2="642.3" y2="395.9" stroke="#000" stroke-width="1.2" />
<line x1="65.7" y1="425.4" x2="70.7" y2="425.4" stroke="#000" stroke-width="1.2" />
<line x1="647.3" y1="425.4" x2="642.3" y2="425.4" stroke="#000" stroke-width="1.2" />
<line x1="65.7" y1="455.0" x2="70.7" y2="455.0" stroke="#000" stroke-width="1.2" />
<line x1="647.3" y1="455.0" x2="642.3" y2="455.0" stroke="#000" stroke-width="1.2" />
<text x="-0.3" y="76.4" font-size="13.5" textLength="60.1" lengthAdjust="spacingAndGlyphs" >81°22.8′N</text>
<text x="-0.3" y="165.0" font-size="13.5" textLength="60.1" lengthAdjust="spacingAndGlyphs" >81°22.5′N</text>
<text x="-0.3" y="253.6" font-size="13.5" textLength="60.1" lengthAdjust="spacingAndGlyphs" >81°22.2′N</text>
<text x="-0.3" y="342.2" font-size="13.5" textLength="60.1" lengthAdjust="spacingAndGlyphs" >81°21.9′N</text>
<text x="-0.3" y="430.9" font-size="13.5" textLength="60.1" lengthAdjust="spacingAndGlyphs" >81°21.6′N</text>
<text x="92.2" y="472.2" font-size="13" textLength="57.3" lengthAdjust="spacingAndGlyphs" >3°25.2′W</text>
<text x="201.2" y="472.2" font-size="13" textLength="57.3" lengthAdjust="spacingAndGlyphs" >3°24.6′W</text>
<text x="316.9" y="472.2" font-size="13" textLength="44.0" lengthAdjust="spacingAndGlyphs" >3°24′W</text>
<text x="419.4" y="472.2" font-size="13" textLength="57.3" lengthAdjust="spacingAndGlyphs" >3°23.4′W</text>
<text x="528.4" y="472.2" font-size="13" textLength="57.3" lengthAdjust="spacingAndGlyphs" >3°22.8′W</text>
<text x="279.4" y="51.0" font-size="11.5" font-weight="bold" textLength="50.3" lengthAdjust="spacingAndGlyphs" >CTD 061</text>
<text x="304.0" y="72.5" font-size="9" textLength="18.7" lengthAdjust="spacingAndGlyphs" >13:30</text>
<text x="332.3" y="72.6" font-size="9" textLength="18.9" lengthAdjust="spacingAndGlyphs" >17:30</text>
<text x="290.0" y="95.3" font-size="9" textLength="18.7" lengthAdjust="spacingAndGlyphs" >18:00</text>
<text x="360.0" y="99.6" font-size="9" textLength="20.3" lengthAdjust="spacingAndGlyphs" >18:30</text>
<text x="301.2" y="122.3" font-size="9" textLength="19.5" lengthAdjust="spacingAndGlyphs" >14:00</text>
<text x="380.4" y="127.1" font-size="9" textLength="19.6" lengthAdjust="spacingAndGlyphs" >19:00</text>
<text x="324.8" y="160.6" font-size="9" textLength="18.8" lengthAdjust="spacingAndGlyphs" >14:30</text>
<text x="475.8" y="176.3" font-size="9" textLength="18.0" lengthAdjust="spacingAndGlyphs" >19:30</text>
<text x="367.5" y="192.6" font-size="9" textLength="18.5" lengthAdjust="spacingAndGlyphs" >15:00</text>
<text x="495.6" y="219.1" font-size="9" textLength="19.2" lengthAdjust="spacingAndGlyphs" >20:00</text>
<text x="384.2" y="232.4" font-size="9" textLength="19.2" lengthAdjust="spacingAndGlyphs" >15:30</text>
<text x="93.3" y="237.3" font-size="9" textLength="20.0" lengthAdjust="spacingAndGlyphs" >03:00</text>
<text x="358.4" y="243.3" font-size="9" textLength="18.3" lengthAdjust="spacingAndGlyphs" >17:00</text>
<text x="316.0" y="269.1" font-size="9" textLength="18.6" lengthAdjust="spacingAndGlyphs" >17:30</text>
<text x="389.0" y="271.1" font-size="9" textLength="19.6" lengthAdjust="spacingAndGlyphs" >03:15</text>
<text x="485.5" y="273.8" font-size="9" textLength="18.4" lengthAdjust="spacingAndGlyphs" >20:30</text>
<text x="278.8" y="297.6" font-size="9" textLength="19.2" lengthAdjust="spacingAndGlyphs" >18:00</text>
<text x="365.7" y="296.4" font-size="9" textLength="20.0" lengthAdjust="spacingAndGlyphs" >05:20</text>
<text x="237.2" y="310.1" font-size="9" textLength="20.3" lengthAdjust="spacingAndGlyphs" >05:10</text>
<text x="126.0" y="315.7" font-size="9" textLength="18.2" lengthAdjust="spacingAndGlyphs" >05:40</text>
<text x="283.5" y="321.7" font-size="9" textLength="18.5" lengthAdjust="spacingAndGlyphs" >05:00</text>
<text x="112.0" y="332.1" font-size="9" textLength="20.0" lengthAdjust="spacingAndGlyphs" >05:50</text>
<text x="141.4" y="332.1" font-size="9" textLength="19.6" lengthAdjust="spacingAndGlyphs" >06:10</text>
<text x="194.4" y="333.3" font-size="9" textLength="20.0" lengthAdjust="spacingAndGlyphs" >06:20</text>
<text x="365.5" y="330.5" font-size="9" textLength="19.7" lengthAdjust="spacingAndGlyphs" >06:40</text>
<text x="433.8" y="333.6" font-size="9" textLength="18.2" lengthAdjust="spacingAndGlyphs" >03:45</text>
<text x="476.3" y="322.1" font-size="9" textLength="18.2" lengthAdjust="spacingAndGlyphs" >21:00</text>
<text x="223.2" y="356.1" font-size="9" textLength="19.3" lengthAdjust="spacingAndGlyphs" >04:40</text>
<text x="377.6" y="375.7" font-size="9" textLength="19.8" lengthAdjust="spacingAndGlyphs" >04:30</text>
<text x="482.0" y="372.3" font-size="9" textLength="19.0" lengthAdjust="spacingAndGlyphs" >21:30</text>
<text x="305.5" y="382.5" font-size="9" textLength="19.8" lengthAdjust="spacingAndGlyphs" >19:00</text>
<text x="318.8" y="414.1" font-size="9" textLength="19.8" lengthAdjust="spacingAndGlyphs" >04:15</text>
<text x="314.0" y="429.1" font-size="9" textLength="20.8" lengthAdjust="spacingAndGlyphs" >19:30</text>
<text x="309.7" y="343.5" font-size="9" textLength="19.8" lengthAdjust="spacingAndGlyphs" >04:50</text>
<text x="291.0" y="336.7" font-size="9" textLength="18.7" lengthAdjust="spacingAndGlyphs" >06:30</text>
<circle cx="103.2" cy="228.6" r="1.3" stroke="#222" stroke-width="0.5" fill="#222"/>
<circle cx="399.0" cy="262.8" r="1.3" stroke="#222" stroke-width="0.5" fill="#222"/>
<text x="396.3" y="164.6" font-size="12" font-weight="bold" textLength="66.7" lengthAdjust="spacingAndGlyphs" >OFOBS 062</text>
<text x="114.4" y="245.9" font-size="12" font-weight="bold" textLength="46.6" lengthAdjust="spacingAndGlyphs" >NUI 057</text>
<text x="116.0" y="257.3" font-size="11" textLength="43.0" lengthAdjust="spacingAndGlyphs" >(sensing)</text>
<text x="92.6" y="341.9" font-size="12" font-weight="bold" textLength="47.4" lengthAdjust="spacingAndGlyphs" >NUI 057</text>
<text x="85.3" y="352.8" font-size="11" textLength="60.7" lengthAdjust="spacingAndGlyphs" >(ROV mode)</text>
<text x="448.6" y="428.9" font-size="12" font-weight="bold" textLength="46.7" lengthAdjust="spacingAndGlyphs" >NUI 057</text>
<text x="447.9" y="440.2" font-size="11" textLength="48.5" lengthAdjust="spacingAndGlyphs" >(mapping)</text>
<text x="250.5" y="448.9" font-size="12" font-weight="bold" textLength="49.5" lengthAdjust="spacingAndGlyphs" >CTD 058</text>
<text x="507.8" y="271.6" font-size="11" font-weight="bold" textLength="33.2" lengthAdjust="spacingAndGlyphs" >Fig. 4f</text>
<text x="505.8" y="284.0" font-size="11" font-weight="bold" textLength="33.2" lengthAdjust="spacingAndGlyphs" >Fig. 4e</text>
<text x="478.0" y="341.3" font-size="11" font-weight="bold" textLength="43.4" lengthAdjust="spacingAndGlyphs" >Fig. 4c,d</text>
<text x="500.5" y="382.1" font-size="11" font-weight="bold" textLength="44.8" lengthAdjust="spacingAndGlyphs" >Fig. 4a,b</text>
<text x="525.0" y="396.5" font-size="11" textLength="85.0" lengthAdjust="spacingAndGlyphs" >CTD PS66/258-2</text>
<text x="523.2" y="413.2" font-size="11" textLength="83.2" lengthAdjust="spacingAndGlyphs" >dredge PS55/088</text>
<text x="133.0" y="439.9" font-size="13" textLength="35.8" lengthAdjust="spacingAndGlyphs" >200 m</text>
<text x="0" y="3.78" font-size="11" text-anchor="middle" fill="#000" font-weight="normal" textLength="92.0" lengthAdjust="spacingAndGlyphs" transform="translate(226.4 371.0) rotate(4.8)">dredge PS66/258-1</text>
<text x="0" y="4.47" font-size="13" text-anchor="middle" fill="#000" font-weight="normal" textLength="46.5" lengthAdjust="spacingAndGlyphs" transform="translate(625.0 365.8) rotate(-90)">1,000 m</text>
<text x="286.8" y="184.5" font-size="13.5" font-weight="bold" font-style="italic" fill="#17888c" textLength="49" lengthAdjust="spacingAndGlyphs">shallow</text>
<text x="290.5" y="197.5" font-size="13.5" font-weight="bold" font-style="italic" fill="#17888c" textLength="41" lengthAdjust="spacingAndGlyphs">plume</text>
<text x="263.9" y="233.6" font-size="13.5" font-weight="bold" font-style="italic" fill="#8c1a8c" textLength="78" lengthAdjust="spacingAndGlyphs">deep plume</text>
<rect x="71.5" y="39.5" width="189.0" height="135.0" fill="#fff" stroke="#444" stroke-width="1" />
<path d="M78.9,48.3L83.5,52.9M78.9,52.9L83.5,48.3" stroke="#c41e3a" stroke-width="1.1" stroke-opacity="0.85" fill="none"/>
<path d="M76.2,61.8L86.2,71.8M76.2,71.8L86.2,61.8" stroke="#c41e3a" stroke-width="1.1" stroke-opacity="0.85" fill="none"/>
<circle cx="81.2" cy="83.0" r="5.5" stroke="#c8c83a" stroke-width="1.1" fill="none"/>
<rect x="77.0" y="94.9" width="8.5" height="8.5" fill="none" stroke="#1f6fc0" stroke-width="1.3" />
<rect x="79.5" y="113.7" width="3.5" height="3.5" fill="#1ab0bd" stroke="none" stroke-width="1" />
<polygon points="81.2,127.3 85.2,134.2 77.2,134.2" fill="#f4c20d"/>
<polygon points="81.2,143.5 85.2,150.4 77.2,150.4" fill="#e84b3a"/>
<polygon points="81.2,159.7 85.2,166.6 77.2,166.6" fill="#50555c"/>
<text x="89.8" y="54.4" font-size="11" textLength="117.5" lengthAdjust="spacingAndGlyphs" >−0.2 ≥ ΔORP &gt; −1 mV</text>
<text x="89.8" y="70.6" font-size="11" textLength="79.8" lengthAdjust="spacingAndGlyphs" >ΔORP ≤ −1 mV</text>
<text x="89.8" y="86.8" font-size="11" textLength="61.7" lengthAdjust="spacingAndGlyphs" >θ ≥ 0.002°C</text>
<text x="89.8" y="103.0" font-size="11" textLength="148.5" lengthAdjust="spacingAndGlyphs" >H₂ (scaled to concentration)</text>
<text x="89.8" y="119.2" font-size="11" textLength="105.3" lengthAdjust="spacingAndGlyphs" >CH₄ sensor anomaly</text>
<text x="89.8" y="135.4" font-size="11" textLength="146.1" lengthAdjust="spacingAndGlyphs" >hydrothermalism with fauna</text>
<text x="89.8" y="151.6" font-size="11" textLength="163.2" lengthAdjust="spacingAndGlyphs" >hydrothermalism without fauna</text>
<text x="89.8" y="167.8" font-size="11" textLength="81.6" lengthAdjust="spacingAndGlyphs" >massive sulfides</text>
<rect x="74.5" y="16.5" width="18.0" height="21.0" fill="#fff" stroke="#444" stroke-width="1" />
<text x="79.9" y="32.7" font-size="16" font-weight="bold" textLength="7.5" lengthAdjust="spacingAndGlyphs" >a</text>
<rect x="540.4" y="0.0" width="145.0" height="236.0" fill="#fff" stroke="none" stroke-width="1" />
<rect x="548.4" y="235.0" width="137.0" height="46.0" fill="#fff" stroke="none" stroke-width="1" />
<clipPath id="pb"><rect x="570" y="19.2" width="113.6" height="186.8"/></clipPath>
<g clip-path="url(#pb)">
<polyline points="639.7,19.5 643.0,19.7 643.9,19.8 638.7,20.0 639.8,20.2 646.8,20.4 639.1,20.5 639.6,20.7 647.0,20.9 644.0,21.1 641.7,21.2 643.0,21.4 644.4,21.6 640.9,21.8 639.6,21.9 645.5,22.1 644.4,22.3 643.0,22.5 645.7,22.6 643.3,22.8 647.2,23.0 640.2,23.2 643.3,23.3 642.7,23.5 641.5,23.7 643.6,23.9 640.4,24.0 645.5,24.2 646.1,24.4 639.4,24.6 642.4,24.7 640.7,24.9 639.0,25.1 646.3,25.3 642.1,25.4 639.5,25.6 644.3,25.8 640.0,26.0 646.3,26.1 640.1,26.3 638.5,26.5 640.0,26.6 641.3,26.8 642.4,27.0 646.3,27.2 644.4,27.3 641.2,27.5 638.3,27.7 639.5,27.9 647.1,28.0 642.2,28.2 644.3,28.4 638.5,28.6 638.4,28.7 645.7,28.9 643.3,29.1 640.8,29.3 640.9,29.4 638.8,29.6 639.6,29.8 638.2,30.0 645.5,30.1 642.2,30.3 639.1,30.5 644.6,30.7 639.7,30.8 638.5,31.0 643.3,31.2 646.0,31.4 638.2,31.5 645.2,31.7 639.6,31.9 638.7,32.1 638.0,32.2 640.5,32.4 644.4,32.6 642.3,32.8 645.5,32.9 639.8,33.1 640.7,33.3 640.1,33.4 646.6,33.6 646.3,33.8 640.9,34.0 641.7,34.1 640.6,34.3 644.5,34.5 638.1,34.7 638.4,34.8 641.4,35.0 639.9,35.2 645.3,35.4 644.4,35.5 642.6,35.7 643.7,35.9 643.9,36.1 644.7,36.2 646.0,36.4 639.0,36.6 643.3,36.8 638.9,36.9 641.6,37.1 644.7,37.3 645.7,37.5 644.4,37.6 637.9,37.8 640.8,38.0 639.1,38.2 646.6,38.3 638.9,38.5 639.8,38.7 640.8,38.9 638.1,39.0 645.4,39.2 643.3,39.4 639.0,39.6 642.0,39.7 638.2,39.9 643.0,40.1 639.6,40.3 637.8,40.4 638.5,40.6 642.4,40.8 643.1,40.9 640.3,41.1 643.0,41.3 640.5,41.5 638.6,41.6 640.1,41.8 640.8,42.0 645.2,42.2 638.4,42.3 638.1,42.5 642.1,42.7 645.4,42.9 644.9,43.0 643.2,43.2 637.9,43.4 644.0,43.6 642.9,43.7 638.5,43.9 641.1,44.1 637.7,44.3 643.7,44.4 643.0,44.6 643.7,44.8 643.3,45.0 639.4,45.1 643.4,45.3 639.2,45.5 638.3,45.7 640.3,45.8 641.1,46.0 639.4,46.2 641.8,46.4 641.8,46.5 639.0,46.7 641.9,46.9 639.9,47.1 642.6,47.2 639.3,47.4 643.0,47.6 640.2,47.7 641.2,47.9 642.0,48.1 640.9,48.3 639.0,48.4 644.0,48.6 637.8,48.8 639.4,49.0 640.9,49.1 637.3,49.3 638.2,49.5 642.5,49.7 642.4,49.8 641.4,50.0 643.1,50.2 642.1,50.4 639.1,50.5 641.3,50.7 639.3,50.9 641.9,51.1 639.5,51.2 638.0,51.4 642.6,51.6 641.4,51.8 641.7,51.9 640.5,52.1 641.9,52.3 639.8,52.5 640.5,52.6 637.4,52.8 640.3,53.0 641.5,53.2 640.5,53.3 640.6,53.5 638.8,53.7 640.1,53.9 636.5,54.0 639.3,54.2 637.0,54.4 635.9,54.5 637.2,54.7 636.4,54.9 636.1,55.1 636.4,55.2 633.8,55.4 633.9,55.6 632.3,55.8 631.5,55.9 630.4,56.1 628.1,56.3 628.3,56.5 628.5,56.6 624.9,56.8 623.1,57.0 622.0,57.2 622.6,57.3 624.3,57.5 617.8,57.7 622.6,57.9 618.5,58.0 614.2,58.2 615.3,58.4 612.3,58.6 615.7,58.7 613.0,58.9 609.8,59.1 609.4,59.3 615.5,59.4 614.4,59.6 610.9,59.8 610.5,60.0 613.9,60.1 616.4,60.3 606.7,60.5 607.5,60.7 609.6,60.8 611.1,61.0 606.2,61.2 605.8,61.3 607.6,61.5 609.4,61.7 613.3,61.9 611.7,62.0 604.9,62.2 605.0,62.4 609.6,62.6 614.6,62.7 615.0,62.9 608.4,63.1 614.6,63.3 615.1,63.4 608.7,63.6 612.9,63.8 608.1,64.0 605.4,64.1 610.6,64.3 604.4,64.5 611.7,64.7 613.5,64.8 614.9,65.0 608.8,65.2 604.4,65.4 614.7,65.5 614.3,65.7 615.6,65.9 610.5,66.1 611.6,66.2 607.4,66.4 604.7,66.6 606.2,66.8 612.1,66.9 606.5,67.1 611.6,67.3 608.8,67.5 608.0,67.6 615.2,67.8 603.9,68.0 608.4,68.2 603.7,68.3 614.5,68.5 608.2,68.7 605.9,68.8 603.5,69.0 609.4,69.2 606.6,69.4 602.8,69.5 601.4,69.7 606.3,69.9 608.9,70.1 608.0,70.2 613.2,70.4 613.3,70.6 613.6,70.8 611.6,70.9 607.0,71.1 607.6,71.3 605.8,71.5 605.7,71.6 600.7,71.8 611.2,72.0 603.4,72.2 600.4,72.3 606.4,72.5 609.9,72.7 606.0,72.9 604.9,73.0 608.9,73.2 602.2,73.4 600.2,73.6 607.9,73.7 607.0,73.9 611.4,74.1 605.4,74.3 610.2,74.4 600.2,74.6 600.4,74.8 607.7,75.0 602.9,75.1 600.9,75.3 601.6,75.5 604.7,75.6 604.2,75.8 607.0,76.0 610.9,76.2 604.5,76.3 602.2,76.5 607.0,76.7 600.0,76.9 604.6,77.0 603.7,77.2 604.4,77.4 600.4,77.6 606.1,77.7 606.7,77.9 607.9,78.1 610.0,78.3 603.4,78.4 606.4,78.6 604.1,78.8 601.7,79.0 608.2,79.1 606.7,79.3 608.3,79.5 607.0,79.7 607.7,79.8 600.4,80.0 599.3,80.2 600.9,80.4 602.6,80.5 604.8,80.7 602.6,80.9 603.0,81.1 604.5,81.2 599.2,81.4 603.0,81.6 598.7,81.8 599.7,81.9 602.0,82.1 601.4,82.3 599.7,82.4 598.9,82.6 600.6,82.8 598.3,83.0 597.4,83.1 597.7,83.3 597.0,83.5 598.8,83.7 597.3,83.8 599.4,84.0 597.7,84.2 598.0,84.4 598.9,84.5 598.1,84.7 598.4,84.9 597.6,85.1 598.6,85.2 597.5,85.4 598.2,85.6 600.9,85.8 598.6,85.9 598.6,86.1 600.4,86.3 601.4,86.5 598.9,86.6 599.4,86.8 601.1,87.0 601.6,87.2 600.8,87.3 598.7,87.5 598.8,87.7 602.0,87.9 601.8,88.0 603.0,88.2 602.5,88.4 600.5,88.6 598.9,88.7 603.7,88.9 602.8,89.1 602.2,89.2 603.1,89.4 601.4,89.6 601.3,89.8 603.0,89.9 602.6,90.1 604.3,90.3 606.1,90.5 605.7,90.6 602.7,90.8 602.8,91.0 607.0,91.2 603.4,91.3 606.5,91.5 601.5,91.7 604.3,91.9 605.0,92.0 607.5,92.2 608.2,92.4 602.8,92.6 606.6,92.7 606.9,92.9 603.1,93.1 608.0,93.3 605.6,93.4 608.0,93.6 602.5,93.8 604.4,94.0 602.8,94.1 604.3,94.3 603.8,94.5 603.0,94.7 601.8,94.8 602.3,95.0 601.4,95.2 603.0,95.4 601.1,95.5 600.9,95.7 600.0,95.9 599.7,96.1 600.9,96.2 599.8,96.4 601.1,96.6 600.7,96.7 601.6,96.9 600.1,97.1 601.9,97.3 601.7,97.4 601.4,97.6 601.9,97.8 602.1,98.0 601.7,98.1 602.2,98.3 602.9,98.5 605.4,98.7 609.5,98.8 611.9,99.0 615.6,99.2 614.7,99.4 616.0,99.5 616.7,99.7 616.7,99.9 617.1,100.1 615.1,100.2 615.3,100.4 615.6,100.6 616.1,100.8 615.5,100.9 615.8,101.1 615.5,101.3 618.8,101.5 616.9,101.6 618.1,101.8 617.6,102.0 618.9,102.2 619.7,102.3 618.6,102.5 619.9,102.7 618.5,102.9 620.0,103.0 620.3,103.2 621.3,103.4 621.9,103.5 623.8,103.7 623.2,103.9 623.8,104.1 627.1,104.2 623.2,104.4 623.7,104.6 624.6,104.8 630.0,104.9 629.3,105.1 630.5,105.3 632.3,105.5 629.6,105.6 633.4,105.8 631.4,106.0 633.2,106.2 634.5,106.3 635.5,106.5 634.9,106.7 636.0,106.9 635.1,107.0 635.6,107.2 637.1,107.4 637.0,107.6 636.3,107.7 636.8,107.9 637.1,108.1 635.8,108.3 637.4,108.4 636.2,108.6 635.5,108.8 636.4,109.0 636.6,109.1 636.9,109.3 636.8,109.5 635.3,109.7 636.8,109.8 637.6,110.0 635.9,110.0 637.7,110.2 635.7,110.4 635.7,110.6 636.1,110.8 635.8,111.0 636.9,111.2 635.5,111.3 637.5,111.5 637.4,111.7 635.2,111.9 636.6,112.1 635.5,112.3 635.9,112.5 636.3,112.7 636.4,112.9 636.4,113.1 637.6,113.3 635.9,113.5 635.7,113.7 636.9,113.8 637.7,114.0 637.6,114.2 637.5,114.4 635.4,114.6 637.6,114.8 636.9,115.0 637.5,115.2 636.3,115.4 635.8,115.6 637.3,115.8 636.9,116.0 637.2,116.2 635.7,116.3 635.5,116.5 637.2,116.7 635.3,116.9 637.7,117.1 635.6,117.3 636.8,117.5 636.3,117.7 636.0,117.9 635.6,118.1 637.2,118.3 637.6,118.5 637.1,118.7 636.8,118.8 637.0,119.0 636.6,119.2 636.7,119.4 637.6,119.6 635.9,119.8 635.8,120.0 637.7,120.2 637.7,120.4 636.4,120.6 637.3,120.8 637.1,121.0 637.7,121.2 635.4,121.4 637.5,121.5 636.5,121.7 636.4,121.9 637.0,122.1 636.8,122.3 636.3,122.5 636.0,122.7 637.6,122.9 637.3,123.1 635.5,123.3 636.3,123.5 637.2,123.7 637.5,123.9 637.7,124.0 635.8,124.2 637.5,124.4 637.0,124.6 635.4,124.8 635.7,125.0 635.7,125.2 635.4,125.4 637.0,125.6 636.0,125.8 637.0,126.0 635.4,126.2 637.5,126.4 637.0,126.5 637.2,126.7 636.8,126.9 636.4,127.1 635.7,127.3 637.7,127.5 635.6,127.7 636.6,127.9 635.5,128.1 635.5,128.3 637.0,128.5 637.5,128.7 636.4,128.9 637.3,129.0 637.4,129.2 636.6,129.4 637.2,129.6 636.0,129.8 635.6,130.0 635.7,130.2 635.2,130.4 635.4,130.6 637.2,130.8 637.5,131.0 635.3,131.2 637.1,131.4 637.2,131.5 637.0,131.7 636.5,131.9 636.5,132.1 637.0,132.3 635.8,132.5 637.2,132.7 635.7,132.9 635.3,133.1 637.6,133.3 635.4,133.5 635.7,133.7 635.3,133.9 635.2,134.0 635.5,134.2 637.6,134.4 637.0,134.6 636.3,134.8 635.2,135.0 637.4,135.2 636.5,135.4 637.4,135.6 636.5,135.8 635.4,136.0 635.4,136.2 637.3,136.4 635.8,136.5 635.6,136.7 636.3,136.9 635.9,137.1 635.9,137.3 637.3,137.5 636.4,137.7 637.8,137.9 635.5,138.1 636.0,138.3 637.5,138.5 636.3,138.7 637.2,138.9 636.3,139.1 636.3,139.2 637.5,139.4 636.0,139.6 636.6,139.8 636.7,140.0 635.3,140.2 635.5,140.4 635.8,140.6 635.2,140.8 637.0,141.0 636.7,141.2 636.1,141.4 636.3,141.6 635.3,141.7 636.2,141.9 637.4,142.1 635.3,142.3 636.9,142.5 637.0,142.7 635.8,142.9 636.0,143.1 635.7,143.3 636.7,143.5 636.2,143.7 635.5,143.9 636.0,144.1 635.8,144.2 637.8,144.4 636.8,144.6 636.4,144.8 636.5,145.0 636.7,145.2 637.8,145.4 636.2,145.6 635.3,145.8 635.7,146.0 635.2,146.2 635.7,146.4 636.8,146.6 635.9,146.7 637.4,146.9 637.7,147.1 635.5,147.3 637.3,147.5 636.9,147.7 637.8,147.9 635.7,148.1 637.2,148.3 636.1,148.5 635.7,148.7 635.9,148.9 637.6,149.1 636.4,149.2 636.3,149.4 637.5,149.6 637.4,149.8 637.5,150.0 635.3,150.2 637.8,150.4 637.0,150.6 637.5,150.8 637.3,151.0 637.5,151.2 637.5,151.4 636.9,151.6 635.5,151.7 637.0,151.9 635.3,152.1 636.1,152.3 635.9,152.5 636.0,152.7 637.3,152.9 637.5,153.1 637.5,153.3 636.8,153.5 637.2,153.7 635.5,153.9 636.1,154.1 637.2,154.2 636.4,154.4 636.5,154.6 637.2,154.8 635.8,155.0 637.5,155.2 637.1,155.4 635.4,155.6 636.3,155.8 637.6,156.0 635.9,156.2 635.2,156.4 635.6,156.6 636.6,156.7 635.5,156.9 635.3,157.1 635.6,157.3 637.3,157.5 637.7,157.7 635.6,157.9 636.7,158.1 637.0,158.3 635.4,158.5 637.5,158.7 637.1,158.9 637.0,159.1 636.4,159.3 637.3,159.4 637.3,159.6 635.9,159.8 635.8,160.0 637.8,160.2 636.5,160.4 636.3,160.6 637.6,160.8 637.1,161.0 637.1,161.2 637.3,161.4 637.4,161.6 637.0,161.8 637.8,161.9 637.3,162.1 637.4,162.3 637.4,162.5 635.3,162.7 637.8,162.9 637.2,163.1 635.4,163.3 637.1,163.5 637.0,163.7 636.5,163.9 636.0,164.1 636.6,164.3 635.6,164.4 636.2,164.6 636.8,164.8 637.1,165.0 636.6,165.2 637.5,165.4 637.5,165.6 637.6,165.8 636.7,166.0 635.8,166.2 635.3,166.4 636.7,166.6 636.5,166.8 635.2,166.9 635.6,167.1 637.7,167.3 637.2,167.5 637.6,167.7 636.0,167.9 636.3,168.1 636.7,168.3 636.2,168.5 635.3,168.7 636.4,168.9 636.9,169.1 636.1,169.3 637.6,169.4 637.6,169.6 635.3,169.8 636.3,170.0 636.8,170.2 636.3,170.4 637.7,170.6 636.0,170.8 637.5,171.0 636.1,171.2 637.5,171.4 635.5,171.6 637.4,171.8 637.4,171.9 636.7,172.1 636.0,172.3 636.2,172.5 635.5,172.7 635.9,172.9 636.5,173.1 636.6,173.3 636.4,173.5 637.5,173.7 635.8,173.9 637.2,174.1 637.4,174.3 636.1,174.4 635.3,174.6 637.3,174.8 637.1,175.0 636.5,175.2 637.6,175.4 635.9,175.6 637.1,175.8 636.9,176.0 636.2,176.2 637.2,176.4 635.5,176.6 636.0,176.8 636.5,176.9 637.7,177.1 637.2,177.3 635.3,177.5 636.8,177.7 635.6,177.9 636.2,178.1 637.7,178.3 635.9,178.5 635.5,178.7 637.6,178.9 635.8,179.1 636.7,179.3 635.9,179.5 637.7,179.6 637.2,179.8 637.3,180.0 635.5,180.2 636.1,180.4 637.4,180.6 636.0,180.8 635.5,181.0 637.4,181.2 635.9,181.4 636.7,181.6 635.7,181.8 635.5,182.0 636.5,182.1 636.9,182.3 637.2,182.5 637.6,182.7 636.6,182.9 637.0,183.1 636.0,183.3 637.5,183.5 636.1,183.7 635.3,183.9 635.7,184.1 635.6,184.3 636.9,184.5 635.6,184.6 636.4,184.8 636.1,185.0 637.3,185.2 636.0,185.4 635.8,185.6 635.9,185.8 635.7,186.0 636.9,186.2 636.6,186.4 637.0,186.6 635.5,186.8 637.3,187.0 636.6,187.1 637.7,187.3 637.8,187.5 635.2,187.7 636.8,187.9 635.9,188.1 637.0,188.3 635.6,188.5 636.7,188.7 637.2,188.9 636.7,189.1 636.0,189.3 637.1,189.5 637.6,189.6 635.9,189.8 635.5,190.0 636.2,190.2 636.3,190.4 636.2,190.6 637.7,190.8 635.8,191.0 635.3,191.2 635.2,191.4 636.5,191.6 635.9,191.8 636.5,192.0 637.0,192.1 636.0,192.3 635.5,192.5 637.6,192.7 635.7,192.9 636.0,193.1 635.3,193.3 636.8,193.5 635.8,193.7 637.1,193.9 636.3,194.1 637.4,194.3 636.1,194.5 637.2,194.6 635.4,194.8 636.1,195.0 636.0,195.2 636.3,195.4 635.8,195.6 636.0,195.8 637.7,196.0 635.4,196.2 636.5,196.4 637.6,196.6 636.4,196.8 636.4,197.0 636.6,197.2 635.5,197.3 635.7,197.5 637.0,197.7 636.8,197.9 635.8,198.1 636.5,198.3 637.8,198.5 635.7,198.7 637.3,198.9 637.6,199.1 636.6,199.3 635.6,199.5 636.4,199.7 637.2,199.8 636.9,200.0 637.4,200.2 636.5,200.4 635.2,200.6 635.3,200.8 637.3,201.0 636.6,201.2 637.6,201.4 637.4,201.6 636.9,201.8 636.7,202.0 637.2,202.2 635.6,202.3 636.2,202.5 636.9,202.7 636.6,202.9 635.6,203.1 636.0,203.3 635.6,203.5 637.4,203.7 635.7,203.9 636.9,204.1 635.6,204.3 635.5,204.5 635.3,204.7 636.1,204.8 637.4,205.0 637.6,205.2 636.6,205.4 637.4,205.6 636.9,205.8 637.7,206.0" stroke="#1f6fc0" stroke-width="0.7" fill="none" />
<line x1="601.0" y1="59.7" x2="616.0" y2="59.7" stroke="#1f6fc0" stroke-width="0.9" />
<line x1="585.0" y1="67.3" x2="612.0" y2="67.3" stroke="#1f6fc0" stroke-width="0.9" />
<line x1="572.0" y1="83.3" x2="600.0" y2="83.3" stroke="#1f6fc0" stroke-width="0.9" />
<line x1="641.0" y1="44.0" x2="648.0" y2="44.0" stroke="#1f6fc0" stroke-width="0.9" />
<line x1="618.0" y1="101.0" x2="632.0" y2="101.0" stroke="#1f6fc0" stroke-width="0.9" />
<line x1="618.0" y1="103.5" x2="633.0" y2="103.5" stroke="#1f6fc0" stroke-width="0.9" />
<line x1="620.0" y1="105.5" x2="633.0" y2="105.5" stroke="#1f6fc0" stroke-width="0.9" />
<line x1="604.0" y1="62.0" x2="615.0" y2="62.0" stroke="#1f6fc0" stroke-width="0.9" />
<line x1="597.0" y1="72.0" x2="612.0" y2="72.0" stroke="#1f6fc0" stroke-width="0.9" />
<line x1="599.0" y1="75.0" x2="611.0" y2="75.0" stroke="#1f6fc0" stroke-width="0.9" />
<line x1="598.0" y1="90.0" x2="614.0" y2="90.0" stroke="#1f6fc0" stroke-width="0.9" />
<line x1="626.5" y1="185.4" x2="636.5" y2="185.4" stroke="#1f6fc0" stroke-width="0.8" />
<line x1="628.2" y1="168.9" x2="636.5" y2="168.9" stroke="#1f6fc0" stroke-width="0.8" />
<line x1="624.0" y1="178.7" x2="636.5" y2="178.7" stroke="#1f6fc0" stroke-width="0.8" />
<line x1="631.2" y1="120.4" x2="636.5" y2="120.4" stroke="#1f6fc0" stroke-width="0.8" />
<line x1="624.4" y1="171.3" x2="636.5" y2="171.3" stroke="#1f6fc0" stroke-width="0.8" />
<line x1="626.0" y1="204.2" x2="636.5" y2="204.2" stroke="#1f6fc0" stroke-width="0.8" />
<line x1="625.6" y1="151.8" x2="636.5" y2="151.8" stroke="#1f6fc0" stroke-width="0.8" />
<line x1="629.8" y1="122.6" x2="636.5" y2="122.6" stroke="#1f6fc0" stroke-width="0.8" />
<line x1="628.1" y1="202.1" x2="636.5" y2="202.1" stroke="#1f6fc0" stroke-width="0.8" />
<line x1="628.3" y1="175.5" x2="636.5" y2="175.5" stroke="#1f6fc0" stroke-width="0.8" />
<line x1="628.0" y1="130.5" x2="636.5" y2="130.5" stroke="#1f6fc0" stroke-width="0.8" />
<line x1="627.6" y1="175.2" x2="636.5" y2="175.2" stroke="#1f6fc0" stroke-width="0.8" />
<line x1="629.4" y1="205.3" x2="636.5" y2="205.3" stroke="#1f6fc0" stroke-width="0.8" />
<line x1="631.2" y1="131.7" x2="636.5" y2="131.7" stroke="#1f6fc0" stroke-width="0.8" />
<line x1="623.1" y1="192.3" x2="636.5" y2="192.3" stroke="#1f6fc0" stroke-width="0.8" />
<line x1="624.5" y1="177.7" x2="636.5" y2="177.7" stroke="#1f6fc0" stroke-width="0.8" />
<line x1="628.4" y1="132.8" x2="636.5" y2="132.8" stroke="#1f6fc0" stroke-width="0.8" />
<line x1="629.7" y1="129.4" x2="636.5" y2="129.4" stroke="#1f6fc0" stroke-width="0.8" />
<line x1="623.8" y1="201.7" x2="636.5" y2="201.7" stroke="#1f6fc0" stroke-width="0.8" />
<line x1="630.7" y1="144.0" x2="636.5" y2="144.0" stroke="#1f6fc0" stroke-width="0.8" />
<line x1="625.1" y1="153.5" x2="636.5" y2="153.5" stroke="#1f6fc0" stroke-width="0.8" />
<line x1="629.4" y1="173.7" x2="636.5" y2="173.7" stroke="#1f6fc0" stroke-width="0.8" />
<line x1="625.0" y1="153.4" x2="636.5" y2="153.4" stroke="#1f6fc0" stroke-width="0.8" />
<line x1="625.7" y1="112.0" x2="636.5" y2="112.0" stroke="#1f6fc0" stroke-width="0.8" />
<line x1="627.5" y1="136.5" x2="636.5" y2="136.5" stroke="#1f6fc0" stroke-width="0.8" />
<line x1="629.0" y1="156.4" x2="636.5" y2="156.4" stroke="#1f6fc0" stroke-width="0.8" />
<line x1="625.4" y1="183.6" x2="636.5" y2="183.6" stroke="#1f6fc0" stroke-width="0.8" />
<line x1="627.3" y1="169.0" x2="636.5" y2="169.0" stroke="#1f6fc0" stroke-width="0.8" />
<polyline points="676.9,19.5 676.6,19.7 676.2,19.9 675.0,20.0 674.3,20.2 675.5,20.4 674.7,20.6 673.3,20.7 674.6,20.9 674.4,21.1 672.8,21.3 673.5,21.5 671.8,21.6 672.2,21.8 672.6,22.0 672.2,22.2 672.9,22.4 672.5,22.5 674.3,22.7 674.1,22.9 674.0,23.1 675.5,23.2 676.3,23.4 675.8,23.6 676.6,23.8 677.5,24.0 676.0,24.1 677.6,24.3 678.7,24.5 677.5,24.7 678.1,24.8 679.0,25.0 678.7,25.2 677.8,25.4 677.1,25.6 675.5,25.7 676.2,25.9 674.8,26.1 673.7,26.3 674.7,26.5 673.6,26.6 672.6,26.8 672.4,27.0 671.4,27.2 670.1,27.3 670.3,27.5 669.9,27.7 669.3,27.9 668.3,28.1 668.3,28.2 668.4,28.4 668.8,28.6 668.5,28.8 668.8,28.9 669.7,29.1 670.4,29.3 670.1,29.5 671.2,29.7 671.5,29.8 671.3,30.0 672.4,30.2 672.9,30.4 674.3,30.6 673.3,30.7 675.2,30.9 675.6,31.1 675.6,31.3 675.5,31.4 676.9,31.6 676.4,31.8 676.8,32.0 677.1,32.2 676.4,32.3 676.2,32.5 675.7,32.7 674.9,32.9 675.2,33.0 675.8,33.2 675.5,33.4 673.9,33.6 674.5,33.8 673.8,33.9 673.7,34.1 674.5,34.3 673.9,34.5 673.1,34.6 672.8,34.8 673.3,35.0 672.0,35.2 672.5,35.4 672.6,35.5 672.9,35.7 672.7,35.9 673.4,36.1 674.0,36.3 673.2,36.4 674.5,36.6 674.2,36.8 674.6,37.0 674.8,37.1 674.9,37.3 676.0,37.5 675.5,37.7 675.4,37.9 676.9,38.0 676.5,38.2 677.1,38.4 678.2,38.6 677.9,38.7 677.9,38.9 677.5,39.1 678.1,39.3 678.4,39.5 677.7,39.6 677.6,39.8 676.5,40.0 676.3,40.2 676.2,40.4 676.3,40.5 676.9,40.7 675.8,40.9 675.1,41.1 675.6,41.2 674.8,41.4 675.4,41.6 674.6,41.8 675.6,42.0 674.3,42.1 674.4,42.3 674.1,42.5 673.6,42.7 674.4,42.8 672.4,43.0 673.5,43.2 672.3,43.4 671.7,43.6 671.7,43.7 672.5,43.9 672.6,44.1 672.1,44.3 671.0,44.5 671.1,44.6 670.2,44.8 670.5,45.0 670.0,45.2 669.4,45.3 669.6,45.5 670.4,45.7 669.5,45.9 668.9,46.1 668.8,46.2 670.3,46.4 669.3,46.6 669.5,46.8 669.9,46.9 671.3,47.1 671.8,47.3 670.8,47.5 671.9,47.7 672.2,47.8 672.3,48.0 671.8,48.2 673.2,48.4 673.0,48.6 674.1,48.7 674.5,48.9 674.2,49.1 673.7,49.3 674.3,49.4 675.1,49.6 675.8,49.8 675.3,50.0 675.5,50.2 676.2,50.3 676.8,50.5 675.4,50.7 675.5,50.9 675.1,51.0 674.5,51.2 673.9,51.4 669.7,51.6 665.0,51.8 659.9,51.9 655.5,52.1 654.3,52.3 653.0,52.5 651.5,52.7 650.3,52.8 649.2,53.0 647.8,53.2 646.5,53.4 645.2,53.5 643.6,53.7 642.6,53.9 641.7,54.1 640.5,54.3 639.4,54.4 638.7,54.6 637.8,54.8 636.7,55.0 634.7,55.1 633.8,55.3 633.8,55.5 634.8,55.7 633.1,55.9 634.3,56.0 633.6,56.2 635.1,56.4 630.8,56.6 634.1,56.7 629.5,56.9 632.9,57.1 632.2,57.3 630.3,57.5 630.4,57.6 631.2,57.8 631.9,58.0 629.4,58.2 631.5,58.4 628.7,58.5 632.0,58.7 632.3,58.9 631.0,59.1 631.9,59.2 632.6,59.4 632.2,59.6 628.9,59.8 629.2,60.0 629.6,60.1 636.8,60.3 631.7,60.5 633.6,60.7 628.5,60.8 631.5,61.0 630.6,61.2 628.1,61.4 628.2,61.6 628.2,61.7 633.1,61.9 633.0,62.1 634.2,62.3 628.7,62.5 630.4,62.6 632.4,62.8 630.6,63.0 633.2,63.2 624.7,63.3 630.7,63.5 625.2,63.7 628.3,63.9 626.8,64.1 627.0,64.2 629.1,64.4 623.4,64.6 622.8,64.8 629.0,64.9 625.3,65.1 624.5,65.3 622.4,65.5 624.3,65.7 625.0,65.8 626.2,66.0 622.9,66.2 621.1,66.4 624.9,66.6 621.8,66.7 624.3,66.9 624.8,67.1 625.8,67.3 620.0,67.4 620.5,67.6 621.2,67.8 624.2,68.0 621.2,68.2 621.0,68.3 623.9,68.5 618.1,68.7 617.8,68.9 617.5,69.0 620.8,69.2 618.3,69.4 619.4,69.6 620.3,69.8 620.5,69.9 619.3,70.1 617.0,70.3 622.7,70.5 623.0,70.7 620.3,70.8 617.8,71.0 623.9,71.2 616.0,71.4 622.7,71.5 620.3,71.7 616.9,71.9 619.8,72.1 619.4,72.3 614.5,72.4 618.5,72.6 621.2,72.8 619.9,73.0 615.5,73.1 616.2,73.3 620.3,73.5 614.5,73.7 620.2,73.9 618.8,74.0 617.5,74.2 617.7,74.4 618.2,74.6 615.0,74.8 621.8,74.9 617.6,75.1 619.5,75.3 614.9,75.5 621.2,75.6 619.6,75.8 616.0,76.0 620.6,76.2 619.7,76.4 616.1,76.5 614.3,76.7 617.4,76.9 611.7,77.1 616.8,77.2 616.2,77.4 610.9,77.6 614.7,77.8 611.0,78.0 612.8,78.1 612.4,78.3 609.2,78.5 609.3,78.7 610.7,78.8 609.5,79.0 608.7,79.2 607.1,79.4 607.6,79.6 605.9,79.7 606.0,79.9 605.7,80.1 605.0,80.3 605.3,80.5 604.3,80.6 605.4,80.8 604.3,81.0 604.4,81.2 603.7,81.3 602.8,81.5 602.8,81.7 601.9,81.9 602.0,82.1 602.0,82.2 601.1,82.4 602.3,82.6 603.1,82.8 603.4,82.9 605.0,83.1 606.8,83.3 606.9,83.5 607.7,83.7 609.0,83.8 610.4,84.0 610.4,84.2 610.2,84.4 610.9,84.6 611.1,84.7 611.7,84.9 612.5,85.1 611.9,85.3 610.9,85.4 611.2,85.6 611.7,85.8 613.3,86.0 611.6,86.2 613.0,86.3 612.6,86.5 612.5,86.7 613.5,86.9 614.0,87.0 614.2,87.2 613.1,87.4 613.2,87.6 613.4,87.8 613.6,87.9 613.8,88.1 614.7,88.3 614.3,88.5 615.3,88.7 616.7,88.8 616.7,89.0 615.6,89.2 618.1,89.4 617.3,89.5 617.3,89.7 617.9,89.9 618.0,90.1 619.0,90.3 619.9,90.4 619.7,90.6 622.0,90.8 621.4,91.0 622.1,91.1 622.1,91.3 623.8,91.5 624.2,91.7 624.0,91.9 623.5,92.0 625.3,92.2 625.2,92.4 625.3,92.6 626.6,92.8 627.7,92.9 628.2,93.1 627.6,93.3 629.8,93.5 629.6,93.6 631.0,93.8 630.6,94.0 632.2,94.2 632.6,94.4 631.6,94.5 633.9,94.7 634.0,94.9 634.3,95.1 633.7,95.2 635.4,95.4 636.0,95.6 636.9,95.8 636.6,96.0 636.5,96.1 638.2,96.3 638.1,96.5 638.5,96.7 639.6,96.9 639.1,97.0 639.7,97.2 641.5,97.4 641.9,97.6 642.3,97.7 642.4,97.9 642.8,98.1 643.1,98.3 643.5,98.5 645.1,98.6 645.1,98.8 646.4,99.0 646.3,99.2 647.3,99.3 648.2,99.5 648.8,99.7 649.3,99.9 650.7,100.1 650.6,100.2 651.9,100.4 652.5,100.6 653.1,100.8 653.1,100.9 653.9,101.1 654.3,101.3 654.5,101.5 654.8,101.7 655.2,101.8 655.4,102.0 655.9,102.2 656.2,102.4 656.3,102.6 657.2,102.7 657.0,102.9 657.1,103.1 658.0,103.3 658.6,103.4 658.2,103.6 658.4,103.8 659.3,104.0 659.8,104.2 660.2,104.3 660.9,104.5 661.6,104.7 662.0,104.9 662.8,105.0 663.3,105.2 663.8,105.4 664.1,105.6 665.3,105.8 665.7,105.9 665.9,106.1 665.6,106.3 666.4,106.5 666.1,106.7 666.2,106.8 665.9,107.0 666.0,107.2 666.1,107.4 665.6,107.5 665.5,107.7 666.2,107.9 665.6,108.1 665.2,108.3 665.8,108.4 666.4,108.6 665.8,108.8 666.0,109.0 666.5,109.1 665.4,109.3 665.4,109.5 665.1,109.7 665.7,109.9 665.3,110.0 666.1,110.2 665.7,110.4 665.2,110.6 666.4,110.8 666.4,110.9 666.7,111.1 665.7,111.3 666.1,111.5 666.3,111.6 666.7,111.8 666.9,112.0 666.7,112.0 665.7,112.2 666.4,112.4 666.7,112.7 666.3,112.9 666.1,113.1 666.5,113.3 666.4,113.6 665.9,113.8 666.1,114.0 666.5,114.2 665.1,114.5 666.3,114.7 666.5,114.9 665.8,115.1 666.0,115.4 665.4,115.6 666.3,115.8 667.0,116.0 665.6,116.3 665.9,116.5 666.8,116.7 666.1,116.9 665.8,117.2 666.4,117.4 665.0,117.6 665.3,117.8 666.8,118.1 665.3,118.3 665.0,118.5 666.9,118.7 666.6,119.0 667.0,119.2 666.6,119.4 666.9,119.6 665.7,119.9 666.6,120.1 665.3,120.3 666.7,120.5 666.5,120.7 665.3,121.0 665.3,121.2 665.3,121.4 666.7,121.6 666.4,121.9 665.5,122.1 666.4,122.3 666.4,122.5 666.4,122.8 667.1,123.0 666.8,123.2 665.8,123.4 665.0,123.7 665.4,123.9 665.0,124.1 666.7,124.3 666.7,124.6 665.3,124.8 667.0,125.0 665.6,125.2 665.9,125.5 666.2,125.7 667.2,125.9 666.9,126.1 665.2,126.4 666.9,126.6 665.3,126.8 666.7,127.0 666.4,127.3 665.2,127.5 664.9,127.7 667.0,127.9 664.8,128.2 665.1,128.4 667.2,128.6 666.5,128.8 666.2,129.1 665.9,129.3 666.2,129.5 665.9,129.7 664.9,129.9 665.3,130.2 665.5,130.4 666.0,130.6 665.7,130.8 666.6,131.1 666.8,131.3 666.7,131.5 665.9,131.7 665.7,132.0 664.8,132.2 665.6,132.4 666.7,132.6 665.6,132.9 665.5,133.1 665.1,133.3 666.3,133.5 666.0,133.8 664.8,134.0 665.3,134.2 664.9,134.4 665.1,134.7 665.4,134.9 664.9,135.1 667.4,135.3 666.5,135.6 665.1,135.8 666.4,136.0 666.0,136.2 665.4,136.5 666.2,136.7 666.8,136.9 665.2,137.1 668.4,137.4 666.7,137.6 665.1,137.8 667.6,138.0 668.8,138.2 664.9,138.5 667.9,138.7 668.6,138.9 666.9,139.1 665.2,139.4 668.6,139.6 666.6,139.8 666.4,140.0 668.9,140.3 665.0,140.5 666.3,140.7 669.9,140.9 665.9,141.2 665.4,141.4 665.5,141.6 668.1,141.8 667.2,142.1 668.0,142.3 670.4,142.5 666.4,142.7 669.5,143.0 668.3,143.2 668.6,143.4 665.1,143.6 665.2,143.9 665.7,144.1 667.4,144.3 666.9,144.5 666.5,144.8 669.7,145.0 668.0,145.2 666.7,145.4 668.1,145.7 669.6,145.9 665.8,146.1 666.9,146.3 665.9,146.5 667.5,146.8 665.4,147.0 666.5,147.2 670.0,147.4 669.5,147.7 664.7,147.9 666.4,148.1 668.8,148.3 668.9,148.6 666.2,148.8 667.9,149.0 668.4,149.2 666.6,149.5 665.1,149.7 668.4,149.9 668.2,150.1 667.3,150.4 668.3,150.6 669.3,150.8 665.6,151.0 664.5,151.3 667.4,151.5 665.4,151.7 668.5,151.9 668.0,152.2 666.6,152.4 668.0,152.6 668.7,152.8 667.7,153.1 665.7,153.3 666.5,153.5 664.8,153.7 667.1,154.0 665.9,154.2 665.1,154.4 665.5,154.6 665.8,154.8 667.7,155.1 664.6,155.3 665.2,155.5 665.5,155.7 667.7,156.0 664.9,156.2 668.2,156.4 667.4,156.6 666.0,156.9 666.7,157.1 666.9,157.3 667.2,157.5 665.3,157.8 667.5,158.0 666.9,158.2 664.8,158.4 664.5,158.7 666.6,158.9 667.1,159.1 666.6,159.3 667.0,159.6 664.5,159.8 667.3,160.0 665.6,160.2 665.7,160.5 666.8,160.7 666.2,160.9 665.8,161.1 664.7,161.4 667.2,161.6 666.2,161.8 664.5,162.0 666.0,162.3 666.4,162.5 665.8,162.7 666.2,162.9 664.9,163.2 667.4,163.4 665.8,163.6 664.5,163.8 665.1,164.0 666.9,164.3 666.5,164.5 666.0,164.7 665.1,164.9 666.5,165.2 666.7,165.4 664.6,165.6 664.5,165.8 666.5,166.1 666.2,166.3 666.5,166.5 664.8,166.7 666.9,167.0 665.6,167.2 666.5,167.4 664.9,167.6 665.3,167.9 665.3,168.1 665.4,168.3 666.8,168.5 665.8,168.8 666.5,169.0 666.0,169.2 666.4,169.4 665.6,169.7 664.2,169.9 665.6,170.1 664.5,170.3 664.1,170.6 666.6,170.8 665.7,171.0 665.7,171.2 665.7,171.5 665.4,171.7 664.8,171.9 665.4,172.1 665.5,172.3 666.1,172.6 665.2,172.8 664.7,173.0 665.9,173.2 666.1,173.5 664.5,173.7 666.7,173.9 666.3,174.1 664.8,174.4 666.5,174.6 666.1,174.8 664.6,175.0 664.5,175.3 666.8,175.5 666.5,175.7 664.1,175.9 664.3,176.2 666.7,176.4 665.8,176.6 665.7,176.8 664.0,177.1 666.0,177.3 665.4,177.5 665.8,177.7 666.1,178.0 665.7,178.2 665.7,178.4 666.5,178.6 665.9,178.9 665.1,179.1 666.3,179.3 665.9,179.5 665.5,179.8 664.8,180.0 664.8,180.2 666.5,180.4 665.7,180.6 665.6,180.9 665.1,181.1 665.8,181.3 666.6,181.5 664.2,181.8 665.2,182.0 665.6,182.2 664.3,182.4 664.6,182.7 664.1,182.9 663.9,183.1 665.1,183.3 664.8,183.6 665.9,183.8 665.6,184.0 665.9,184.2 664.7,184.5 666.5,184.7 665.4,184.9 664.5,185.1 666.1,185.4 665.5,185.6 666.3,185.8 664.3,186.0 666.2,186.3 664.5,186.5 663.5,186.7 663.2,186.9 664.7,187.2 665.1,187.4 663.9,187.6 663.4,187.8 663.6,188.1 663.5,188.3 663.0,188.5 663.3,188.7 663.2,188.9 664.2,189.2 664.9,189.4 665.0,189.6 663.9,189.8 663.8,190.1 663.5,190.3 665.8,190.5 665.8,190.7 664.2,191.0 664.7,191.2 663.5,191.4 664.8,191.6 666.1,191.9 666.2,192.1 664.7,192.3 663.3,192.5 665.5,192.8 663.0,193.0 663.0,193.2 663.5,193.4 664.4,193.7 664.2,193.9 664.2,194.1 664.4,194.3 661.7,194.6 665.9,194.8 666.3,195.0 661.6,195.2 662.6,195.5 663.9,195.7 665.7,195.9 662.4,196.1 664.3,196.4 664.1,196.6 665.4,196.8 664.2,197.0 663.5,197.3 663.7,197.5 665.3,197.7 663.9,197.9 666.1,198.1 664.9,198.4 663.5,198.6 664.3,198.8 662.6,199.0 665.8,199.3 665.8,199.5 663.7,199.7 663.7,199.9 663.9,200.2 664.2,200.4 665.6,200.6 665.0,200.8 666.0,201.1 664.7,201.3 665.6,201.5 665.6,201.7 663.5,202.0 663.3,202.2 663.7,202.4 664.4,202.6 663.0,202.9 663.5,203.1 665.2,203.3 664.4,203.5 664.8,203.8 665.0,204.0 664.8,204.2 663.6,204.4 666.3,204.7 666.3,204.9 664.1,205.1 664.7,205.3 665.1,205.6 665.6,205.8 665.2,206.0" stroke="#c41e3a" stroke-width="0.7" fill="none" />
</g>
<rect x="579.8" y="19.2" width="103.8" height="186.8" fill="none" stroke="#000" stroke-width="1.3"/>
<line x1="579.8" y1="39.7" x2="584.8" y2="39.7" stroke="#000" stroke-width="1.2" />
<line x1="683.6" y1="39.7" x2="678.6" y2="39.7" stroke="#000" stroke-width="1.2" />
<line x1="579.8" y1="111.8" x2="584.8" y2="111.8" stroke="#000" stroke-width="1.2" />
<line x1="683.6" y1="111.8" x2="678.6" y2="111.8" stroke="#000" stroke-width="1.2" />
<line x1="579.8" y1="183.7" x2="584.8" y2="183.7" stroke="#000" stroke-width="1.2" />
<line x1="683.6" y1="183.7" x2="678.6" y2="183.7" stroke="#000" stroke-width="1.2" />
<line x1="623.0" y1="19.2" x2="623.0" y2="24.2" stroke="#000" stroke-width="1.2" />
<line x1="623.0" y1="206.0" x2="623.0" y2="201.0" stroke="#000" stroke-width="1.2" />
<line x1="666.0" y1="19.2" x2="666.0" y2="24.2" stroke="#000" stroke-width="1.2" />
<line x1="666.0" y1="206.0" x2="666.0" y2="201.0" stroke="#000" stroke-width="1.2" />
<text x="0" y="3.78" font-size="11" text-anchor="middle" fill="#000" font-weight="normal" textLength="27.0" lengthAdjust="spacingAndGlyphs" transform="translate(570.0 39.7) rotate(-90)">2,800</text>
<text x="0" y="3.78" font-size="11" text-anchor="middle" fill="#000" font-weight="normal" textLength="27.0" lengthAdjust="spacingAndGlyphs" transform="translate(570.0 111.8) rotate(-90)">3,000</text>
<text x="0" y="3.78" font-size="11" text-anchor="middle" fill="#000" font-weight="normal" textLength="27.0" lengthAdjust="spacingAndGlyphs" transform="translate(570.0 183.7) rotate(-90)">3,200</text>
<text x="0" y="4.13" font-size="12" text-anchor="middle" fill="#000" font-weight="normal" textLength="52.0" lengthAdjust="spacingAndGlyphs" transform="translate(553.0 113.0) rotate(-90)">depth (m)</text>
<text x="564.6" y="219.8" font-size="11" fill="#c41e3a" textLength="29.8" lengthAdjust="spacingAndGlyphs" >−0.10</text>
<text x="608.2" y="219.8" font-size="11" fill="#c41e3a" textLength="29.5" lengthAdjust="spacingAndGlyphs" >−0.05</text>
<text x="656.7" y="219.8" font-size="11" fill="#c41e3a" textLength="20.0" lengthAdjust="spacingAndGlyphs" >0.00</text>
<text x="598.4" y="235.6" font-size="12" fill="#c41e3a" textLength="66.9" lengthAdjust="spacingAndGlyphs" >ΔORP (mV)</text>
<line x1="579.3" y1="244.4" x2="653.0" y2="244.4" stroke="#000" stroke-width="1.2" />
<line x1="586.0" y1="244.4" x2="586.0" y2="239.4" stroke="#000" stroke-width="1.2" />
<line x1="619.3" y1="244.4" x2="619.3" y2="239.4" stroke="#000" stroke-width="1.2" />
<line x1="653.0" y1="244.4" x2="653.0" y2="239.4" stroke="#000" stroke-width="1.2" />
<text x="570.7" y="258.1" font-size="11" fill="#1f6fc0" textLength="31.7" lengthAdjust="spacingAndGlyphs" >100.45</text>
<text x="607.0" y="258.1" font-size="11" fill="#1f6fc0" textLength="25.2" lengthAdjust="spacingAndGlyphs" >100.5</text>
<text x="636.8" y="258.1" font-size="11" fill="#1f6fc0" textLength="32.2" lengthAdjust="spacingAndGlyphs" >100.55</text>
<text x="555.4" y="273.7" font-size="12" fill="#1f6fc0" textLength="121.3" lengthAdjust="spacingAndGlyphs" >beam transmission (%)</text>
<rect x="587.5" y="0.5" width="19.0" height="21.0" fill="#fff" stroke="#444" stroke-width="1" />
<text x="593.3" y="16.2" font-size="15.5" font-weight="bold" textLength="7.6" lengthAdjust="spacingAndGlyphs" >b</text>
<rect x="610.2" y="6.8" width="63.8" height="14.6" fill="#fff" stroke="#333" stroke-width="1" />
<text x="613.5" y="18.4" font-size="12.5" font-weight="bold" textLength="57.0" lengthAdjust="spacingAndGlyphs" >CTD 061</text>
<rect x="132.0" y="504.5" width="7.0" height="83.1" fill="#d4d4d4" stroke="none" stroke-width="1" />
<rect x="598.8" y="504.5" width="3.4" height="83.1" fill="#d4d4d4" stroke="none" stroke-width="1" />
<polyline points="102.3,517.6 103.1,517.6 103.8,517.6 104.6,517.6 105.3,517.7 106.1,517.5 106.8,517.6 107.6,517.6 108.4,517.7 109.1,517.6 109.9,517.9 110.6,517.8 111.4,517.8 112.2,517.4 112.9,517.6 113.7,517.5 114.4,517.7 115.2,517.3 115.9,517.7 116.7,517.7 117.5,517.4 118.2,517.5 119.0,517.5 119.7,517.6 120.5,517.7 121.2,517.8 122.0,517.6 122.8,517.7 123.5,517.6 124.3,517.8 125.0,517.7 125.8,517.8 126.5,517.5 127.3,517.6 128.1,517.5 128.8,517.8 129.6,517.7 130.3,517.6 131.1,517.5 131.9,517.7 132.6,517.5 133.4,517.7 134.1,518.7 134.9,520.8 135.6,522.3 136.4,522.2 137.2,520.3 137.9,519.4 138.7,521.0 139.4,521.9 140.2,522.1 140.9,522.7 141.7,521.6 142.5,519.5 143.2,518.0 144.0,517.6 144.7,517.6 145.5,517.5 146.3,517.5 147.0,517.5 147.8,517.6 148.5,517.7 149.3,517.6 150.0,517.6 150.8,517.7 151.6,517.7 152.3,517.8 153.1,517.3 153.8,517.7 154.6,517.5 155.3,517.6 156.1,517.7 156.9,517.7 157.6,517.7 158.4,517.6 159.1,517.8 159.9,517.6 160.7,517.6 161.4,517.7 162.2,517.5 162.9,517.9 163.7,517.7 164.4,517.9 165.2,517.6 166.0,517.6 166.7,517.6 167.5,517.7 168.2,517.5 169.0,517.6 169.7,517.6 170.5,517.8 171.3,517.5 172.0,517.7 172.8,517.5 173.5,517.5 174.3,517.5 175.0,517.5 175.8,517.6 176.6,517.7 177.3,517.6 178.1,517.7 178.8,517.8 179.6,517.6 180.4,517.6 181.1,517.6 181.9,517.4 182.6,517.7 183.4,517.4 184.1,517.7 184.9,517.6 185.7,517.7 186.4,517.6 187.2,517.5 187.9,517.6 188.7,517.5 189.4,517.6 190.2,517.6 191.0,517.6 191.7,517.6 192.5,517.5 193.2,517.6 194.0,517.3 194.8,517.6 195.5,517.5 196.3,517.7 197.0,517.8 197.8,517.4 198.5,517.6 199.3,517.6 200.1,517.5 200.8,517.7 201.6,517.5 202.3,517.4 203.1,517.6 203.8,517.6 204.6,517.6 205.4,517.5 206.1,517.7 206.9,517.7 207.6,517.5 208.4,517.5 209.1,517.6 209.9,517.5 210.7,517.8 211.4,517.6 212.2,517.5 212.9,517.5 213.7,517.6 214.5,517.9 215.2,517.6 216.0,517.6 216.7,517.7 217.5,517.6 218.2,517.9 219.0,517.5 219.8,517.7 220.5,517.6 221.3,517.7 222.0,517.5 222.8,517.8 223.5,517.6 224.3,517.6 225.1,517.5 225.8,517.5 226.6,517.7 227.3,517.7 228.1,517.7 228.9,517.7 229.6,517.7 230.4,517.6 231.1,517.7 231.9,517.7 232.6,517.6 233.4,517.7 234.2,517.8 234.9,517.6 235.7,517.6 236.4,517.7 237.2,517.8 237.9,517.6 238.7,517.6 239.5,517.6 240.2,517.7 241.0,517.4 241.7,517.6 242.5,517.7 243.3,517.5 244.0,517.8 244.8,517.7 245.5,517.5 246.3,517.6 247.0,517.4 247.8,517.5 248.6,517.8 249.3,517.5 250.1,517.8 250.8,517.6 251.6,517.7 252.3,517.6 253.1,517.3 253.9,517.5 254.6,517.6 255.4,517.5 256.1,517.4 256.9,517.6 257.6,517.5 258.4,517.4 259.2,517.5 259.9,517.7 260.7,517.5 261.4,517.7 262.2,517.8 263.0,517.6 263.7,517.5 264.5,517.4 265.2,517.6 266.0,517.7 266.7,517.6 267.5,517.7 268.3,517.5 269.0,517.6 269.8,517.5 270.5,517.6 271.3,517.4 272.0,517.4 272.8,517.5 273.6,517.5 274.3,517.5 275.1,517.7 275.8,517.6 276.6,517.9 277.4,517.7 278.1,517.5 278.9,517.7 279.6,517.6 280.4,517.5 281.1,517.7 281.9,517.5 282.7,517.2 283.4,517.7 284.2,517.5 284.9,517.8 285.7,517.5 286.4,517.5 287.2,517.8 288.0,517.5 288.7,517.6 289.5,517.8 290.2,517.6 291.0,517.6 291.7,517.6 292.5,517.7 293.3,517.5 294.0,517.7 294.8,517.7 295.5,517.9 296.3,517.6 297.1,517.5 297.8,517.7 298.6,517.6 299.3,517.6 300.1,517.6 300.8,517.7 301.6,517.5 302.4,517.6 303.1,517.3 303.9,517.5 304.6,517.8 305.4,517.5 306.1,517.5 306.9,517.5 307.7,517.7 308.4,517.6 309.2,517.5 309.9,517.7 310.7,517.6 311.5,517.7 312.2,517.5 313.0,517.8 313.7,517.6 314.5,517.6 315.2,517.5 316.0,517.6 316.8,517.7 317.5,517.6 318.3,517.7 319.0,517.7 319.8,517.8 320.5,517.7 321.3,517.6 322.1,517.4 322.8,517.6 323.6,517.7 324.3,517.6 325.1,517.7 325.9,517.5 326.6,517.6 327.4,517.5 328.1,517.8 328.9,517.6 329.6,517.5 330.4,517.4 331.2,517.6 331.9,517.8 332.7,517.7 333.4,517.5 334.2,517.8 334.9,517.8 335.7,517.7 336.5,517.7 337.2,517.7 338.0,517.7 338.7,517.7 339.5,517.5 340.2,517.8 341.0,517.6 341.8,517.8 342.5,517.4 343.3,517.7 344.0,517.7 344.8,517.6 345.6,517.7 346.3,517.7 347.1,517.7 347.8,517.5 348.6,517.6 349.3,517.7 350.1,517.8 350.9,517.6 351.6,517.6 352.4,517.6 353.1,517.7 353.9,517.5 354.6,517.4 355.4,517.6 356.2,517.5 356.9,517.5 357.7,517.6 358.4,517.7 359.2,517.5 360.0,517.7 360.7,517.4 361.5,517.7 362.2,517.4 363.0,517.4 363.7,517.7 364.5,517.6 365.3,517.5 366.0,517.5 366.8,517.7 367.5,517.6 368.3,517.6 369.0,517.7 369.8,517.5 370.6,517.5 371.3,517.5 372.1,517.7 372.8,517.7 373.6,517.8 374.3,517.6 375.1,517.6 375.9,517.7 376.6,517.6 377.4,517.7 378.1,517.7 378.9,517.5 379.7,517.6 380.4,517.6 381.2,517.8 381.9,517.9 382.7,517.6 383.4,517.6 384.2,517.3 385.0,517.6 385.7,517.6 386.5,517.5 387.2,517.7 388.0,517.4 388.7,517.6 389.5,517.6 390.3,517.5 391.0,517.7 391.8,517.7 392.5,517.4 393.3,517.4 394.1,517.7 394.8,517.6 395.6,517.5 396.3,517.6 397.1,517.6 397.8,517.6 398.6,517.7 399.4,517.6 400.1,517.8 400.9,517.8 401.6,517.7 402.4,517.7 403.1,517.8 403.9,517.7 404.7,517.5 405.4,517.7 406.2,517.6 406.9,517.8 407.7,517.6 408.4,517.7 409.2,517.6 410.0,517.8 410.7,517.6 411.5,517.6 412.2,517.6 413.0,517.5 413.8,517.6 414.5,517.6 415.3,517.6 416.0,517.8 416.8,517.6 417.5,517.6 418.3,517.6 419.1,517.7 419.8,517.5 420.6,517.5 421.3,517.6 422.1,517.8 422.8,522.0 423.6,531.5 424.4,521.8 425.1,517.8 425.9,517.8 426.6,517.6 427.4,517.6 428.2,517.7 428.9,517.5 429.7,517.6 430.4,517.6 431.2,517.6 431.9,517.6 432.7,517.5 433.5,517.7 434.2,517.8 435.0,517.6 435.7,517.6 436.5,517.6 437.2,517.7 438.0,517.4 438.8,517.8 439.5,518.0 440.3,519.0 441.0,518.9 441.8,518.8 442.6,520.5 443.3,523.4 444.1,522.2 444.8,526.4 445.6,528.2 446.3,529.8 447.1,534.2 447.9,533.8 448.6,539.3 449.4,539.9 450.1,543.7 450.9,547.1 451.6,553.4 452.4,555.7 453.2,561.8 453.9,564.9 454.7,577.0 455.4,577.0 456.2,511.7 456.9,511.9 457.7,513.5 458.5,515.6 459.2,511.8 460.0,513.0 460.7,512.4 461.5,516.5 462.3,526.2 463.0,513.2 463.8,511.9 464.5,511.7 465.3,513.5 466.0,511.8 466.8,511.2 467.6,513.6 468.3,514.3 469.1,514.9 469.8,514.4 470.6,513.4 471.3,513.5 472.1,513.5 472.9,513.6 473.6,513.9 474.4,514.1 475.1,514.2 475.9,514.1 476.7,514.3 477.4,514.1 478.2,514.4 478.9,514.2 479.7,514.5 480.4,514.3 481.2,514.4 482.0,514.6 482.7,514.8 483.5,514.5 484.2,514.7 485.0,514.9 485.7,514.9 486.5,514.8 487.3,515.0 488.0,515.0 488.8,515.3 489.5,515.2 490.3,515.0 491.0,514.9 491.8,515.3 492.6,515.5 493.3,515.4 494.1,515.5 494.8,515.3 495.6,515.2 496.4,515.6 497.1,515.5 497.9,515.6 498.6,515.4 499.4,515.6 500.1,515.5 500.9,515.8 501.7,515.6 502.4,515.6 503.2,515.6 503.9,515.9 504.7,515.8 505.4,515.7 506.2,515.7 507.0,515.7 507.7,516.1 508.5,515.6 509.2,515.8 510.0,516.0 510.8,516.1 511.5,515.9 512.3,516.1 513.0,516.1 513.8,516.1 514.5,516.0 515.3,516.3 516.1,516.1 516.8,516.3 517.6,515.9 518.3,516.2 519.1,515.9 519.8,515.9 520.6,516.2 521.4,516.0 522.1,516.2 522.9,516.0 523.6,516.4 524.4,516.1 525.2,516.0 525.9,516.2 526.7,516.3 527.4,516.1 528.2,516.3 528.9,516.5 529.7,516.3 530.5,516.2 531.2,516.1 532.0,516.3 532.7,516.0 533.5,515.8 534.2,516.1 535.0,516.1 535.8,516.5 536.5,516.3 537.3,516.1 538.0,516.1 538.8,516.4 539.5,516.2 540.3,516.2 541.1,516.3 541.8,516.3 542.6,516.3 543.3,516.3 544.1,516.5 544.9,516.6 545.6,516.1 546.4,516.7 547.1,516.3 547.9,516.5 548.6,516.2 549.4,516.4 550.2,516.4 550.9,516.4 551.7,516.5 552.4,516.4 553.2,516.2 553.9,516.3 554.7,516.5 555.5,516.5 556.2,516.3 557.0,516.3 557.7,516.3 558.5,516.2 559.3,516.2 560.0,516.6 560.8,516.3 561.5,516.4 562.3,516.3 563.0,516.6 563.8,516.6 564.6,516.3 565.3,516.4 566.1,516.3 566.8,516.6 567.6,516.5 568.3,516.3 569.1,516.6 569.9,516.4 570.6,516.4 571.4,516.4 572.1,516.3 572.9,516.3 573.6,516.5 574.4,516.4 575.2,516.2 575.9,516.7 576.7,516.4 577.4,516.3 578.2,516.3 579.0,516.5 579.7,516.5 580.5,516.4 581.2,516.5 582.0,516.2 582.7,516.3 583.5,516.3 584.3,516.4 585.0,516.5 585.8,516.1 586.5,516.9 587.3,516.3 588.0,516.4 588.8,516.5 589.6,516.5 590.3,516.4 591.1,516.0 591.8,516.2 592.6,516.5 593.4,516.3 594.1,516.2 594.9,516.0 595.6,516.6 596.4,516.5 597.1,516.3 597.9,516.4 598.7,516.4 599.4,518.3 600.2,527.4 600.9,526.2 601.7,517.9 602.4,516.6 603.2,516.4 604.0,516.3 604.7,516.5 605.5,516.3 606.2,516.2 607.0,516.6 607.8,516.3 608.5,516.4 609.3,516.5 610.0,516.2 610.8,516.5 611.5,516.5 612.3,516.4 613.1,516.5 613.8,516.3 614.6,516.1 615.3,516.4 616.1,516.3 616.8,516.5 617.6,516.4 618.4,516.3 619.1,516.4 619.9,516.6 620.6,516.6 621.4,516.5 622.1,516.5 622.9,516.4 623.7,516.4 624.4,516.5 625.2,516.4 625.9,516.4 626.7,516.2 627.5,516.1 628.2,516.1 629.0,516.3 629.7,516.6 630.5,516.6 631.2,516.3 632.0,516.2" stroke="#c41e3a" stroke-width="1" fill="none" />
<polyline points="102.3,576.5 103.1,576.3 103.8,576.8 104.6,576.9 105.3,577.2 106.1,576.6 106.8,577.0 107.6,576.8 108.4,577.3 109.1,576.6 109.9,577.1 110.6,576.4 111.4,577.1 112.2,577.5 112.9,576.1 113.7,576.9 114.4,577.0 115.2,576.7 115.9,577.5 116.7,577.3 117.5,577.3 118.2,577.0 119.0,577.8 119.7,577.3 120.5,577.0 121.2,577.2 122.0,577.2 122.8,577.0 123.5,577.3 124.3,577.8 125.0,576.7 125.8,577.3 126.5,577.4 127.3,577.8 128.1,576.8 128.8,578.0 129.6,577.7 130.3,576.0 131.1,578.1 131.9,578.0 132.6,577.3 133.4,577.6 134.1,576.9 134.9,578.1 135.6,577.3 136.4,577.5 137.2,578.2 137.9,577.6 138.7,577.7 139.4,577.7 140.2,577.9 140.9,578.0 141.7,577.9 142.5,577.8 143.2,578.0 144.0,578.3 144.7,578.0 145.5,577.4 146.3,578.3 147.0,578.0 147.8,577.6 148.5,578.5 149.3,578.4 150.0,578.4 150.8,578.0 151.6,578.4 152.3,578.3 153.1,578.4 153.8,577.8 154.6,578.4 155.3,577.0 156.1,578.0 156.9,578.3 157.6,578.5 158.4,577.8 159.1,578.7 159.9,578.4 160.7,578.0 161.4,577.7 162.2,578.2 162.9,578.7 163.7,578.2 164.4,578.5 165.2,578.6 166.0,578.7 166.7,578.4 167.5,578.8 168.2,578.9 169.0,578.8 169.7,578.2 170.5,578.6 171.3,578.7 172.0,578.0 172.8,579.0 173.5,578.0 174.3,579.1 175.0,578.2 175.8,578.7 176.6,578.4 177.3,578.9 178.1,578.4 178.8,579.0 179.6,579.1 180.4,577.3 181.1,579.1 181.9,579.1 182.6,578.7 183.4,579.2 184.1,579.3 184.9,579.1 185.7,577.4 186.4,578.3 187.2,578.5 187.9,578.6 188.7,579.0 189.4,579.5 190.2,578.3 191.0,570.2 191.7,577.1 192.5,579.0 193.2,578.3 194.0,578.9 194.8,579.3 195.5,579.5 196.3,579.4 197.0,578.9 197.8,579.6 198.5,579.1 199.3,579.5 200.1,578.4 200.8,579.7 201.6,579.5 202.3,579.7 203.1,579.6 203.8,579.5 204.6,579.8 205.4,579.7 206.1,579.2 206.9,579.2 207.6,579.6 208.4,579.3 209.1,579.2 209.9,579.9 210.7,579.3 211.4,579.5 212.2,579.5 212.9,578.8 213.7,579.4 214.5,579.6 215.2,578.8 216.0,579.2 216.7,579.1 217.5,579.5 218.2,578.7 219.0,579.6 219.8,579.3 220.5,579.4 221.3,578.7 222.0,580.0 222.8,579.5 223.5,579.9 224.3,579.0 225.1,570.2 225.8,578.8 226.6,579.9 227.3,579.5 228.1,579.1 228.9,580.1 229.6,579.5 230.4,580.2 231.1,580.3 231.9,579.6 232.6,580.4 233.4,579.6 234.2,580.1 234.9,580.1 235.7,579.9 236.4,580.0 237.2,579.7 237.9,580.5 238.7,579.7 239.5,580.3 240.2,580.7 241.0,579.8 241.7,580.4 242.5,580.5 243.3,579.2 244.0,579.4 244.8,580.5 245.5,580.1 246.3,579.5 247.0,580.8 247.8,580.0 248.6,580.5 249.3,579.6 250.1,580.1 250.8,580.3 251.6,580.6 252.3,579.7 253.1,580.5 253.9,580.6 254.6,580.5 255.4,580.9 256.1,580.2 256.9,580.9 257.6,579.4 258.4,580.9 259.2,580.6 259.9,580.4 260.7,580.8 261.4,580.9 262.2,580.8 263.0,580.2 263.7,580.6 264.5,580.3 265.2,580.1 266.0,580.8 266.7,580.5 267.5,580.1 268.3,580.4 269.0,578.9 269.8,580.7 270.5,580.4 271.3,580.3 272.0,580.6 272.8,579.8 273.6,580.4 274.3,577.5 275.1,579.3 275.8,581.0 276.6,580.4 277.4,580.2 278.1,581.0 278.9,579.9 279.6,580.5 280.4,580.9 281.1,579.7 281.9,581.0 282.7,580.2 283.4,580.8 284.2,580.9 284.9,581.0 285.7,580.9 286.4,580.8 287.2,581.1 288.0,580.5 288.7,580.1 289.5,581.0 290.2,580.6 291.0,580.4 291.7,580.3 292.5,579.9 293.3,579.8 294.0,580.1 294.8,581.1 295.5,580.8 296.3,580.4 297.1,580.1 297.8,580.9 298.6,580.0 299.3,580.4 300.1,580.6 300.8,580.9 301.6,579.6 302.4,579.6 303.1,581.0 303.9,580.3 304.6,580.4 305.4,580.8 306.1,580.9 306.9,580.1 307.7,580.8 308.4,580.8 309.2,581.1 309.9,580.2 310.7,581.1 311.5,580.0 312.2,581.2 313.0,580.8 313.7,580.6 314.5,580.7 315.2,580.2 316.0,580.0 316.8,580.0 317.5,580.2 318.3,580.9 319.0,580.8 319.8,580.7 320.5,580.6 321.3,580.7 322.1,580.5 322.8,580.1 323.6,580.8 324.3,580.6 325.1,580.3 325.9,581.1 326.6,580.5 327.4,580.0 328.1,581.3 328.9,581.2 329.6,581.0 330.4,580.9 331.2,580.6 331.9,581.2 332.7,580.9 333.4,581.1 334.2,580.4 334.9,581.2 335.7,580.9 336.5,580.4 337.2,580.5 338.0,581.2 338.7,580.8 339.5,579.9 340.2,581.4 341.0,580.2 341.8,580.1 342.5,579.4 343.3,580.8 344.0,581.1 344.8,580.6 345.6,581.2 346.3,581.4 347.1,581.0 347.8,581.4 348.6,580.2 349.3,580.7 350.1,580.7 350.9,580.7 351.6,580.1 352.4,581.3 353.1,580.8 353.9,581.4 354.6,580.8 355.4,580.9 356.2,581.1 356.9,580.7 357.7,579.7 358.4,580.9 359.2,580.3 360.0,581.5 360.7,581.4 361.5,580.2 362.2,581.0 363.0,580.4 363.7,580.9 364.5,579.8 365.3,579.6 366.0,580.9 366.8,580.0 367.5,581.2 368.3,581.1 369.0,581.4 369.8,580.9 370.6,580.7 371.3,581.0 372.1,580.9 372.8,581.3 373.6,580.8 374.3,580.9 375.1,581.2 375.9,581.1 376.6,580.2 377.4,581.2 378.1,581.4 378.9,581.3 379.7,580.4 380.4,581.5 381.2,581.5 381.9,579.8 382.7,581.1 383.4,581.6 384.2,581.0 385.0,581.3 385.7,580.8 386.5,581.2 387.2,580.0 388.0,581.0 388.7,580.9 389.5,581.0 390.3,581.1 391.0,581.5 391.8,579.8 392.5,581.6 393.3,581.0 394.1,581.5 394.8,581.4 395.6,579.7 396.3,580.2 397.1,580.4 397.8,580.5 398.6,581.4 399.4,581.7 400.1,581.2 400.9,580.9 401.6,580.3 402.4,580.9 403.1,581.1 403.9,579.5 404.7,580.5 405.4,581.7 406.2,580.4 406.9,580.9 407.7,581.4 408.4,581.7 409.2,581.6 410.0,580.1 410.7,579.9 411.5,580.6 412.2,581.4 413.0,581.0 413.8,580.7 414.5,581.3 415.3,581.3 416.0,581.4 416.8,581.1 417.5,581.6 418.3,580.5 419.1,581.0 419.8,581.7 420.6,581.1 421.3,580.7 422.1,581.7 422.8,580.5 423.6,581.3 424.4,580.7 425.1,581.1 425.9,581.4 426.6,581.6 427.4,581.7 428.2,579.9 428.9,580.6 429.7,581.6 430.4,581.0 431.2,581.4 431.9,581.6 432.7,581.1 433.5,581.5 434.2,581.5 435.0,581.4 435.7,581.3 436.5,581.5 437.2,581.6 438.0,577.3 438.8,575.6 439.5,573.8 440.3,572.1 441.0,570.4 441.8,566.2 442.6,561.3 443.3,556.4 444.1,551.5 444.8,546.6 445.6,541.7 446.3,536.8 447.1,531.9 447.9,534.6 448.6,540.1 449.4,545.6 450.1,551.1 450.9,556.5 451.6,561.1 452.4,565.6 453.2,570.2 453.9,574.7 454.7,580.6 455.4,581.3 456.2,581.0 456.9,581.2 457.7,581.3 458.5,581.2 459.2,580.6 460.0,581.6 460.7,581.4 461.5,580.5 462.3,581.5 463.0,580.7 463.8,581.4 464.5,580.8 465.3,581.1 466.0,580.4 466.8,580.9 467.6,580.0 468.3,581.1 469.1,580.9 469.8,580.7 470.6,581.1 471.3,581.0 472.1,580.9 472.9,581.2 473.6,580.9 474.4,580.7 475.1,581.1 475.9,580.4 476.7,580.6 477.4,580.5 478.2,580.4 478.9,580.9 479.7,580.1 480.4,580.2 481.2,580.3 482.0,579.9 482.7,580.2 483.5,580.1 484.2,581.2 485.0,580.6 485.7,581.2 486.5,579.9 487.3,580.9 488.0,579.8 488.8,580.2 489.5,579.5 490.3,580.6 491.0,580.0 491.8,579.9 492.6,580.8 493.3,580.6 494.1,580.7 494.8,580.6 495.6,580.9 496.4,580.9 497.1,580.2 497.9,579.5 498.6,580.1 499.4,580.5 500.1,580.9 500.9,581.0 501.7,580.9 502.4,580.6 503.2,580.3 503.9,579.9 504.7,579.4 505.4,580.7 506.2,580.8 507.0,579.9 507.7,580.4 508.5,580.8 509.2,580.7 510.0,580.3 510.8,579.9 511.5,580.3 512.3,579.9 513.0,580.0 513.8,580.8 514.5,580.7 515.3,580.4 516.1,580.2 516.8,580.5 517.6,579.2 518.3,580.7 519.1,580.4 519.8,576.4 520.6,579.5 521.4,580.4 522.1,580.7 522.9,579.3 523.6,579.4 524.4,580.5 525.2,580.5 525.9,579.5 526.7,580.4 527.4,580.5 528.2,580.0 528.9,579.2 529.7,579.1 530.5,580.5 531.2,580.3 532.0,580.2 532.7,579.2 533.5,579.4 534.2,579.9 535.0,580.5 535.8,580.4 536.5,580.2 537.3,579.9 538.0,579.6 538.8,579.6 539.5,580.0 540.3,579.3 541.1,579.1 541.8,579.7 542.6,579.7 543.3,579.7 544.1,579.6 544.9,579.4 545.6,580.0 546.4,579.3 547.1,580.2 547.9,579.7 548.6,579.7 549.4,579.3 550.2,579.3 550.9,578.7 551.7,580.1 552.4,579.1 553.2,579.4 553.9,579.0 554.7,579.5 555.5,580.1 556.2,578.0 557.0,579.3 557.7,579.3 558.5,579.7 559.3,579.6 560.0,577.4 560.8,578.4 561.5,579.0 562.3,579.7 563.0,579.8 563.8,579.6 564.6,579.6 565.3,579.6 566.1,580.1 566.8,579.9 567.6,579.1 568.3,579.6 569.1,579.7 569.9,579.2 570.6,579.9 571.4,579.9 572.1,579.7 572.9,579.2 573.6,579.4 574.4,579.6 575.2,578.3 575.9,579.6 576.7,579.2 577.4,578.9 578.2,579.8 579.0,578.8 579.7,578.5 580.5,579.2 581.2,578.9 582.0,579.2 582.7,578.6 583.5,578.6 584.3,579.1 585.0,579.7 585.8,579.3 586.5,579.6 587.3,579.2 588.0,578.9 588.8,577.9 589.6,579.5 590.3,578.3 591.1,579.2 591.8,579.0 592.6,579.5 593.4,579.1 594.1,578.7 594.9,579.3 595.6,579.4 596.4,578.3 597.1,579.4 597.9,578.7 598.7,579.5 599.4,579.1 600.2,578.8 600.9,578.9 601.7,579.5 602.4,579.4 603.2,579.2 604.0,578.5 604.7,578.7 605.5,579.4 606.2,579.3 607.0,578.3 607.8,578.1 608.5,579.1 609.3,578.7 610.0,578.4 610.8,579.0 611.5,579.3 612.3,578.5 613.1,579.4 613.8,578.8 614.6,578.0 615.3,578.3 616.1,579.0 616.8,576.2 617.6,578.6 618.4,579.3 619.1,578.9 619.9,577.1 620.6,578.0 621.4,579.1 622.1,578.1 622.9,578.3 623.7,578.7 624.4,578.4 625.2,578.8 625.9,578.9 626.7,578.8 627.5,579.1 628.2,578.1 629.0,578.0 629.7,578.4 630.5,578.1 631.2,578.8 632.0,578.8" stroke="#1f6fc0" stroke-width="1" fill="none" />
<path d="M112.9,504.5 L156,573.3" stroke="#000" stroke-width="1" fill="none" />
<path d="M156,573.3 C200,573 230,572 260,571.6 C290,571 320,569 350,571 C380,573 400,574 440,571 C470,570 520,574 539,574.3 C560,574 580,572 592,570.7" stroke="#333" stroke-width="0.9" fill="none" stroke-dasharray="4.5,3"/>
<polyline points="594.7,569.5 603.1,559.9 616.4,535.8 632.0,506.9" stroke="#000" stroke-width="1" fill="none" />
<ellipse cx="135" cy="548.3" rx="8" ry="12" transform="rotate(-28 135 548.3)" fill="none" stroke="#333" stroke-width="0.9" stroke-dasharray="3,2"/>
<ellipse cx="598.3" cy="568.3" rx="5" ry="6" transform="rotate(-28 598.3 568.3)" fill="none" stroke="#333" stroke-width="0.9" stroke-dasharray="3,2"/>
<text x="146.7" y="554.8" font-size="11" textLength="62.4" lengthAdjust="spacingAndGlyphs" >2797–2981 m</text>
<text x="529.2" y="568.0" font-size="11" textLength="61.8" lengthAdjust="spacingAndGlyphs" >3208–3130 m</text>
<rect x="102.3" y="504.5" width="529.7" height="83.1" fill="none" stroke="#000" stroke-width="1.3"/>
<line x1="102.3" y1="504.5" x2="102.3" y2="508.5" stroke="#000" stroke-width="1.2" />
<line x1="102.3" y1="587.6" x2="102.3" y2="583.6" stroke="#000" stroke-width="1.2" />
<line x1="163.4" y1="504.5" x2="163.4" y2="508.5" stroke="#000" stroke-width="1.2" />
<line x1="163.4" y1="587.6" x2="163.4" y2="583.6" stroke="#000" stroke-width="1.2" />
<line x1="224.6" y1="504.5" x2="224.6" y2="508.5" stroke="#000" stroke-width="1.2" />
<line x1="224.6" y1="587.6" x2="224.6" y2="583.6" stroke="#000" stroke-width="1.2" />
<line x1="285.8" y1="504.5" x2="285.8" y2="508.5" stroke="#000" stroke-width="1.2" />
<line x1="285.8" y1="587.6" x2="285.8" y2="583.6" stroke="#000" stroke-width="1.2" />
<line x1="346.9" y1="504.5" x2="346.9" y2="508.5" stroke="#000" stroke-width="1.2" />
<line x1="346.9" y1="587.6" x2="346.9" y2="583.6" stroke="#000" stroke-width="1.2" />
<line x1="408.1" y1="504.5" x2="408.1" y2="508.5" stroke="#000" stroke-width="1.2" />
<line x1="408.1" y1="587.6" x2="408.1" y2="583.6" stroke="#000" stroke-width="1.2" />
<line x1="469.2" y1="504.5" x2="469.2" y2="508.5" stroke="#000" stroke-width="1.2" />
<line x1="469.2" y1="587.6" x2="469.2" y2="583.6" stroke="#000" stroke-width="1.2" />
<line x1="530.4" y1="504.5" x2="530.4" y2="508.5" stroke="#000" stroke-width="1.2" />
<line x1="530.4" y1="587.6" x2="530.4" y2="583.6" stroke="#000" stroke-width="1.2" />
<line x1="591.5" y1="504.5" x2="591.5" y2="508.5" stroke="#000" stroke-width="1.2" />
<line x1="591.5" y1="587.6" x2="591.5" y2="583.6" stroke="#000" stroke-width="1.2" />
<line x1="102.3" y1="517.3" x2="106.3" y2="517.3" stroke="#000" stroke-width="1.2" />
<text x="91.3" y="520.9" font-size="10.5" fill="#c41e3a" textLength="5.7" lengthAdjust="spacingAndGlyphs" >0</text>
<line x1="102.3" y1="540.4" x2="106.3" y2="540.4" stroke="#000" stroke-width="1.2" />
<text x="83.2" y="544.0" font-size="10.5" fill="#c41e3a" textLength="13.8" lengthAdjust="spacingAndGlyphs" >−1</text>
<line x1="102.3" y1="563.2" x2="106.3" y2="563.2" stroke="#000" stroke-width="1.2" />
<text x="83.2" y="566.8" font-size="10.5" fill="#c41e3a" textLength="13.8" lengthAdjust="spacingAndGlyphs" >−2</text>
<line x1="102.3" y1="585.8" x2="106.3" y2="585.8" stroke="#000" stroke-width="1.2" />
<text x="83.2" y="589.4" font-size="10.5" fill="#c41e3a" textLength="13.8" lengthAdjust="spacingAndGlyphs" >−3</text>
<line x1="632.0" y1="518.4" x2="628.0" y2="518.4" stroke="#000" stroke-width="1.2" />
<text x="637.6" y="522.0" font-size="10.5" textLength="26.5" lengthAdjust="spacingAndGlyphs" >2,500</text>
<line x1="632.0" y1="554.6" x2="628.0" y2="554.6" stroke="#000" stroke-width="1.2" />
<text x="637.6" y="558.2" font-size="10.5" textLength="26.5" lengthAdjust="spacingAndGlyphs" >3,000</text>
<text x="90.0" y="600.6" font-size="10.5" textLength="25.6" lengthAdjust="spacingAndGlyphs" >17:30</text>
<text x="212.1" y="600.6" font-size="10.5" textLength="25.6" lengthAdjust="spacingAndGlyphs" >18:30</text>
<text x="334.2" y="600.6" font-size="10.5" textLength="25.6" lengthAdjust="spacingAndGlyphs" >19:30</text>
<text x="456.5" y="600.6" font-size="10.5" textLength="25.6" lengthAdjust="spacingAndGlyphs" >20:30</text>
<text x="578.9" y="600.6" font-size="10.5" textLength="25.6" lengthAdjust="spacingAndGlyphs" >21:30</text>
<text x="335.6" y="616.0" font-size="11.5" textLength="62.0" lengthAdjust="spacingAndGlyphs" >time (UTC)</text>
<text x="0" y="3.96" font-size="11.5" text-anchor="middle" fill="#000" font-weight="normal" textLength="52.0" lengthAdjust="spacingAndGlyphs" transform="translate(674.2 546.0) rotate(-90)">depth (m)</text>
<line x1="49.3" y1="525.0" x2="49.3" y2="588.0" stroke="#000" stroke-width="1.2" />
<line x1="49.3" y1="534.2" x2="55.7" y2="534.2" stroke="#000" stroke-width="1.2" />
<text x="29.9" y="537.8" font-size="10.5" fill="#1f6fc0" textLength="13.6" lengthAdjust="spacingAndGlyphs" >1.1</text>
<line x1="49.3" y1="549.3" x2="55.7" y2="549.3" stroke="#000" stroke-width="1.2" />
<text x="23.9" y="552.9" font-size="10.5" fill="#1f6fc0" textLength="19.6" lengthAdjust="spacingAndGlyphs" >1.05</text>
<line x1="49.3" y1="565.4" x2="55.7" y2="565.4" stroke="#000" stroke-width="1.2" />
<text x="38.5" y="569.0" font-size="10.5" fill="#1f6fc0" textLength="5.0" lengthAdjust="spacingAndGlyphs" >1</text>
<line x1="49.3" y1="580.3" x2="55.7" y2="580.3" stroke="#000" stroke-width="1.2" />
<text x="23.4" y="583.9" font-size="10.5" fill="#1f6fc0" textLength="20.1" lengthAdjust="spacingAndGlyphs" >0.95</text>
<text x="0" y="3.96" font-size="11.5" text-anchor="middle" fill="#1f6fc0" font-weight="normal" textLength="69.4" lengthAdjust="spacingAndGlyphs" transform="translate(12.9 557.3) rotate(-90)">nepheline (V)</text>
<text x="0" y="3.96" font-size="11.5" text-anchor="middle" fill="#c41e3a" font-weight="normal" textLength="65.8" lengthAdjust="spacingAndGlyphs" transform="translate(71.9 546.6) rotate(-90)">ΔORP (mV)</text>
<rect x="110.5" y="485.5" width="18.5" height="21.5" fill="#fff" stroke="#444" stroke-width="1" />
<text x="115.9" y="502.0" font-size="13.7" font-weight="bold" textLength="7.1" lengthAdjust="spacingAndGlyphs" >c</text>
<rect x="131.5" y="491.5" width="80.0" height="15.5" fill="#fff" stroke="#444" stroke-width="1" />
<text x="134.7" y="503.7" font-size="13.3" font-weight="bold" textLength="73.8" lengthAdjust="spacingAndGlyphs" >OFOBS 062</text>
</svg></body></html>
